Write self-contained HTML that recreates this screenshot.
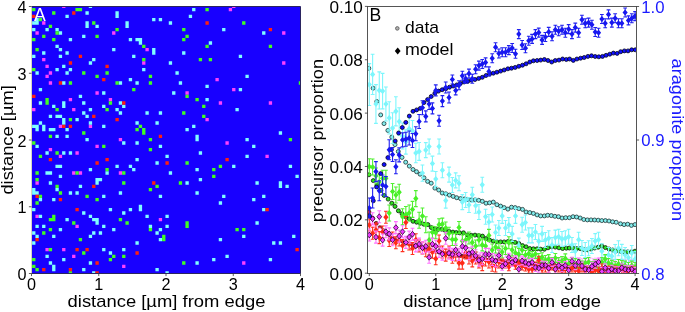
<!DOCTYPE html>
<html><head><meta charset="utf-8"><style>html,body{margin:0;padding:0;background:#fff;overflow:hidden}svg{display:block;will-change:transform}</style></head>
<body><svg width="685" height="312" viewBox="0 0 685 312">
<rect width="685" height="312" fill="#fff"/>
<rect x="31.5" y="6.5" width="269.0" height="267.0" fill="#1800ff"/>
<clipPath id="lc"><rect x="31.8" y="6.4" width="268.6" height="266.8"/></clipPath>
<g clip-path="url(#lc)">
<path d="M32.10 108.03h3.333v3.333h-3.333zM35.43 31.37h3.333v3.333h-3.333zM35.43 181.36h3.333v3.333h-3.333zM35.43 214.70h3.333v3.333h-3.333zM42.10 21.37h3.333v3.333h-3.333zM42.10 58.03h3.333v3.333h-3.333zM45.43 64.70h3.333v3.333h-3.333zM45.43 74.70h3.333v3.333h-3.333zM45.43 248.03h3.333v3.333h-3.333zM48.77 71.37h3.333v3.333h-3.333zM48.77 81.37h3.333v3.333h-3.333zM48.77 148.03h3.333v3.333h-3.333zM58.77 124.70h3.333v3.333h-3.333zM58.77 154.70h3.333v3.333h-3.333zM62.10 4.70h3.333v3.333h-3.333zM62.10 248.03h3.333v3.333h-3.333zM68.77 98.03h3.333v3.333h-3.333zM72.10 108.03h3.333v3.333h-3.333zM72.10 171.36h3.333v3.333h-3.333zM72.10 254.70h3.333v3.333h-3.333zM75.43 151.37h3.333v3.333h-3.333zM75.43 224.70h3.333v3.333h-3.333zM78.77 171.36h3.333v3.333h-3.333zM88.77 124.70h3.333v3.333h-3.333zM95.43 91.37h3.333v3.333h-3.333zM95.43 144.70h3.333v3.333h-3.333zM108.77 98.03h3.333v3.333h-3.333zM112.10 31.37h3.333v3.333h-3.333zM118.77 138.03h3.333v3.333h-3.333zM118.77 171.36h3.333v3.333h-3.333zM122.10 264.70h3.333v3.333h-3.333zM142.10 61.37h3.333v3.333h-3.333zM145.43 48.03h3.333v3.333h-3.333zM158.77 218.03h3.333v3.333h-3.333zM185.43 91.37h3.333v3.333h-3.333zM205.43 118.03h3.333v3.333h-3.333zM215.43 78.03h3.333v3.333h-3.333zM218.76 101.37h3.333v3.333h-3.333zM225.43 141.37h3.333v3.333h-3.333zM228.76 8.03h3.333v3.333h-3.333zM232.10 4.70h3.333v3.333h-3.333zM232.10 88.03h3.333v3.333h-3.333zM242.10 261.36h3.333v3.333h-3.333zM265.43 154.70h3.333v3.333h-3.333zM268.76 101.37h3.333v3.333h-3.333zM282.10 31.37h3.333v3.333h-3.333zM282.10 61.37h3.333v3.333h-3.333z" fill="#ff40ff"/>
<path d="M32.10 21.37h3.333v3.333h-3.333zM32.10 28.03h3.333v3.333h-3.333zM32.10 54.70h3.333v3.333h-3.333zM32.10 124.70h3.333v3.333h-3.333zM32.10 188.03h3.333v3.333h-3.333zM32.10 191.36h3.333v3.333h-3.333zM32.10 208.03h3.333v3.333h-3.333zM32.10 231.36h3.333v3.333h-3.333zM32.10 241.36h3.333v3.333h-3.333zM35.43 18.03h3.333v3.333h-3.333zM35.43 21.37h3.333v3.333h-3.333zM35.43 71.37h3.333v3.333h-3.333zM35.43 124.70h3.333v3.333h-3.333zM35.43 128.03h3.333v3.333h-3.333zM35.43 144.70h3.333v3.333h-3.333zM35.43 191.36h3.333v3.333h-3.333zM35.43 224.70h3.333v3.333h-3.333zM35.43 234.70h3.333v3.333h-3.333zM38.77 88.03h3.333v3.333h-3.333zM38.77 101.37h3.333v3.333h-3.333zM38.77 121.37h3.333v3.333h-3.333zM38.77 198.03h3.333v3.333h-3.333zM38.77 214.70h3.333v3.333h-3.333zM42.10 51.37h3.333v3.333h-3.333zM42.10 124.70h3.333v3.333h-3.333zM42.10 128.03h3.333v3.333h-3.333zM42.10 224.70h3.333v3.333h-3.333zM45.43 28.03h3.333v3.333h-3.333zM45.43 151.37h3.333v3.333h-3.333zM45.43 171.36h3.333v3.333h-3.333zM45.43 254.70h3.333v3.333h-3.333zM48.77 114.70h3.333v3.333h-3.333zM48.77 128.03h3.333v3.333h-3.333zM48.77 171.36h3.333v3.333h-3.333zM48.77 181.36h3.333v3.333h-3.333zM48.77 261.36h3.333v3.333h-3.333zM52.10 104.70h3.333v3.333h-3.333zM52.10 128.03h3.333v3.333h-3.333zM52.10 198.03h3.333v3.333h-3.333zM52.10 234.70h3.333v3.333h-3.333zM52.10 264.70h3.333v3.333h-3.333zM52.10 268.03h3.333v3.333h-3.333zM55.43 28.03h3.333v3.333h-3.333zM55.43 44.70h3.333v3.333h-3.333zM55.43 68.03h3.333v3.333h-3.333zM55.43 114.70h3.333v3.333h-3.333zM55.43 134.70h3.333v3.333h-3.333zM55.43 164.70h3.333v3.333h-3.333zM55.43 188.03h3.333v3.333h-3.333zM58.77 31.37h3.333v3.333h-3.333zM58.77 48.03h3.333v3.333h-3.333zM58.77 54.70h3.333v3.333h-3.333zM58.77 114.70h3.333v3.333h-3.333zM58.77 164.70h3.333v3.333h-3.333zM58.77 174.70h3.333v3.333h-3.333zM58.77 228.03h3.333v3.333h-3.333zM62.10 64.70h3.333v3.333h-3.333zM62.10 81.37h3.333v3.333h-3.333zM62.10 101.37h3.333v3.333h-3.333zM62.10 104.70h3.333v3.333h-3.333zM62.10 118.03h3.333v3.333h-3.333zM62.10 121.37h3.333v3.333h-3.333zM62.10 151.37h3.333v3.333h-3.333zM62.10 258.03h3.333v3.333h-3.333zM65.43 14.70h3.333v3.333h-3.333zM65.43 51.37h3.333v3.333h-3.333zM65.43 71.37h3.333v3.333h-3.333zM65.43 128.03h3.333v3.333h-3.333zM65.43 134.70h3.333v3.333h-3.333zM65.43 218.03h3.333v3.333h-3.333zM68.77 38.03h3.333v3.333h-3.333zM68.77 68.03h3.333v3.333h-3.333zM68.77 151.37h3.333v3.333h-3.333zM68.77 191.36h3.333v3.333h-3.333zM75.43 118.03h3.333v3.333h-3.333zM75.43 191.36h3.333v3.333h-3.333zM78.77 94.70h3.333v3.333h-3.333zM78.77 184.70h3.333v3.333h-3.333zM82.10 34.70h3.333v3.333h-3.333zM82.10 101.37h3.333v3.333h-3.333zM82.10 111.37h3.333v3.333h-3.333zM82.10 211.36h3.333v3.333h-3.333zM82.10 268.03h3.333v3.333h-3.333zM85.43 11.37h3.333v3.333h-3.333zM85.43 21.37h3.333v3.333h-3.333zM85.43 24.70h3.333v3.333h-3.333zM85.43 114.70h3.333v3.333h-3.333zM85.43 138.03h3.333v3.333h-3.333zM88.77 4.70h3.333v3.333h-3.333zM88.77 61.37h3.333v3.333h-3.333zM88.77 108.03h3.333v3.333h-3.333zM88.77 121.37h3.333v3.333h-3.333zM88.77 168.03h3.333v3.333h-3.333zM88.77 214.70h3.333v3.333h-3.333zM88.77 234.70h3.333v3.333h-3.333zM88.77 261.36h3.333v3.333h-3.333zM92.10 58.03h3.333v3.333h-3.333zM92.10 218.03h3.333v3.333h-3.333zM92.10 231.36h3.333v3.333h-3.333zM92.10 271.36h3.333v3.333h-3.333zM95.43 24.70h3.333v3.333h-3.333zM95.43 178.03h3.333v3.333h-3.333zM95.43 181.36h3.333v3.333h-3.333zM95.43 218.03h3.333v3.333h-3.333zM95.43 221.36h3.333v3.333h-3.333zM98.77 178.03h3.333v3.333h-3.333zM98.77 231.36h3.333v3.333h-3.333zM102.10 91.37h3.333v3.333h-3.333zM102.10 104.70h3.333v3.333h-3.333zM102.10 124.70h3.333v3.333h-3.333zM102.10 194.70h3.333v3.333h-3.333zM102.10 224.70h3.333v3.333h-3.333zM102.10 248.03h3.333v3.333h-3.333zM105.43 171.36h3.333v3.333h-3.333zM108.77 208.03h3.333v3.333h-3.333zM108.77 251.36h3.333v3.333h-3.333zM112.10 48.03h3.333v3.333h-3.333zM112.10 228.03h3.333v3.333h-3.333zM115.43 11.37h3.333v3.333h-3.333zM115.43 14.70h3.333v3.333h-3.333zM115.43 108.03h3.333v3.333h-3.333zM115.43 164.70h3.333v3.333h-3.333zM118.77 81.37h3.333v3.333h-3.333zM118.77 101.37h3.333v3.333h-3.333zM118.77 111.37h3.333v3.333h-3.333zM118.77 191.36h3.333v3.333h-3.333zM122.10 104.70h3.333v3.333h-3.333zM122.10 141.37h3.333v3.333h-3.333zM122.10 211.36h3.333v3.333h-3.333zM122.10 248.03h3.333v3.333h-3.333zM125.43 21.37h3.333v3.333h-3.333zM125.43 24.70h3.333v3.333h-3.333zM128.77 38.03h3.333v3.333h-3.333zM128.77 78.03h3.333v3.333h-3.333zM128.77 164.70h3.333v3.333h-3.333zM128.77 208.03h3.333v3.333h-3.333zM132.10 54.70h3.333v3.333h-3.333zM132.10 168.03h3.333v3.333h-3.333zM135.43 38.03h3.333v3.333h-3.333zM135.43 81.37h3.333v3.333h-3.333zM135.43 121.37h3.333v3.333h-3.333zM135.43 141.37h3.333v3.333h-3.333zM135.43 158.03h3.333v3.333h-3.333zM135.43 241.36h3.333v3.333h-3.333zM138.77 38.03h3.333v3.333h-3.333zM138.77 41.37h3.333v3.333h-3.333zM138.77 204.70h3.333v3.333h-3.333zM138.77 208.03h3.333v3.333h-3.333zM142.10 68.03h3.333v3.333h-3.333zM145.43 111.37h3.333v3.333h-3.333zM145.43 214.70h3.333v3.333h-3.333zM148.77 224.70h3.333v3.333h-3.333zM152.10 18.03h3.333v3.333h-3.333zM152.10 48.03h3.333v3.333h-3.333zM152.10 51.37h3.333v3.333h-3.333zM155.43 121.37h3.333v3.333h-3.333zM155.43 161.37h3.333v3.333h-3.333zM155.43 231.36h3.333v3.333h-3.333zM155.43 268.03h3.333v3.333h-3.333zM158.77 18.03h3.333v3.333h-3.333zM158.77 111.37h3.333v3.333h-3.333zM158.77 144.70h3.333v3.333h-3.333zM158.77 194.70h3.333v3.333h-3.333zM158.77 228.03h3.333v3.333h-3.333zM158.77 238.03h3.333v3.333h-3.333zM165.43 154.70h3.333v3.333h-3.333zM165.43 214.70h3.333v3.333h-3.333zM165.43 224.70h3.333v3.333h-3.333zM165.43 271.36h3.333v3.333h-3.333zM168.77 21.37h3.333v3.333h-3.333zM168.77 61.37h3.333v3.333h-3.333zM168.77 171.36h3.333v3.333h-3.333zM172.10 91.37h3.333v3.333h-3.333zM175.43 71.37h3.333v3.333h-3.333zM178.77 81.37h3.333v3.333h-3.333zM182.10 51.37h3.333v3.333h-3.333zM185.43 128.03h3.333v3.333h-3.333zM185.43 181.36h3.333v3.333h-3.333zM188.77 14.70h3.333v3.333h-3.333zM192.10 8.03h3.333v3.333h-3.333zM192.10 124.70h3.333v3.333h-3.333zM195.43 134.70h3.333v3.333h-3.333zM195.43 138.03h3.333v3.333h-3.333zM195.43 168.03h3.333v3.333h-3.333zM195.43 191.36h3.333v3.333h-3.333zM195.43 261.36h3.333v3.333h-3.333zM198.76 151.37h3.333v3.333h-3.333zM198.76 178.03h3.333v3.333h-3.333zM205.43 84.70h3.333v3.333h-3.333zM205.43 98.03h3.333v3.333h-3.333zM208.76 41.37h3.333v3.333h-3.333zM212.10 258.03h3.333v3.333h-3.333zM218.76 201.36h3.333v3.333h-3.333zM218.76 238.03h3.333v3.333h-3.333zM222.10 28.03h3.333v3.333h-3.333zM222.10 194.70h3.333v3.333h-3.333zM225.43 254.70h3.333v3.333h-3.333zM232.10 164.70h3.333v3.333h-3.333zM235.43 108.03h3.333v3.333h-3.333zM238.76 54.70h3.333v3.333h-3.333zM238.76 88.03h3.333v3.333h-3.333zM242.10 234.70h3.333v3.333h-3.333zM245.43 74.70h3.333v3.333h-3.333zM245.43 138.03h3.333v3.333h-3.333zM245.43 154.70h3.333v3.333h-3.333zM252.10 144.70h3.333v3.333h-3.333zM252.10 198.03h3.333v3.333h-3.333zM255.43 181.36h3.333v3.333h-3.333zM255.43 221.36h3.333v3.333h-3.333zM262.10 31.37h3.333v3.333h-3.333zM262.10 194.70h3.333v3.333h-3.333zM262.10 208.03h3.333v3.333h-3.333zM268.76 258.03h3.333v3.333h-3.333zM272.10 241.36h3.333v3.333h-3.333zM278.76 131.37h3.333v3.333h-3.333zM278.76 181.36h3.333v3.333h-3.333zM278.76 184.70h3.333v3.333h-3.333zM278.76 241.36h3.333v3.333h-3.333zM285.43 184.70h3.333v3.333h-3.333zM288.76 164.70h3.333v3.333h-3.333zM292.10 234.70h3.333v3.333h-3.333zM295.43 174.70h3.333v3.333h-3.333z" fill="#80ffff"/>
<path d="M32.10 8.03h3.333v3.333h-3.333zM32.10 38.03h3.333v3.333h-3.333zM32.10 68.03h3.333v3.333h-3.333zM32.10 141.37h3.333v3.333h-3.333zM32.10 258.03h3.333v3.333h-3.333zM32.10 264.70h3.333v3.333h-3.333zM35.43 48.03h3.333v3.333h-3.333zM35.43 171.36h3.333v3.333h-3.333zM35.43 178.03h3.333v3.333h-3.333zM35.43 201.36h3.333v3.333h-3.333zM35.43 268.03h3.333v3.333h-3.333zM38.77 18.03h3.333v3.333h-3.333zM38.77 154.70h3.333v3.333h-3.333zM38.77 194.70h3.333v3.333h-3.333zM42.10 34.70h3.333v3.333h-3.333zM42.10 231.36h3.333v3.333h-3.333zM45.43 98.03h3.333v3.333h-3.333zM45.43 101.37h3.333v3.333h-3.333zM48.77 24.70h3.333v3.333h-3.333zM48.77 134.70h3.333v3.333h-3.333zM48.77 218.03h3.333v3.333h-3.333zM48.77 228.03h3.333v3.333h-3.333zM48.77 248.03h3.333v3.333h-3.333zM52.10 11.37h3.333v3.333h-3.333zM52.10 38.03h3.333v3.333h-3.333zM52.10 214.70h3.333v3.333h-3.333zM52.10 218.03h3.333v3.333h-3.333zM55.43 31.37h3.333v3.333h-3.333zM55.43 108.03h3.333v3.333h-3.333zM55.43 151.37h3.333v3.333h-3.333zM55.43 184.70h3.333v3.333h-3.333zM58.77 191.36h3.333v3.333h-3.333zM68.77 81.37h3.333v3.333h-3.333zM68.77 118.03h3.333v3.333h-3.333zM68.77 271.36h3.333v3.333h-3.333zM72.10 221.36h3.333v3.333h-3.333zM75.43 8.03h3.333v3.333h-3.333zM75.43 171.36h3.333v3.333h-3.333zM78.77 8.03h3.333v3.333h-3.333zM78.77 238.03h3.333v3.333h-3.333zM82.10 71.37h3.333v3.333h-3.333zM82.10 131.37h3.333v3.333h-3.333zM82.10 251.36h3.333v3.333h-3.333zM85.43 194.70h3.333v3.333h-3.333zM92.10 21.37h3.333v3.333h-3.333zM95.43 34.70h3.333v3.333h-3.333zM95.43 74.70h3.333v3.333h-3.333zM95.43 198.03h3.333v3.333h-3.333zM102.10 144.70h3.333v3.333h-3.333zM105.43 71.37h3.333v3.333h-3.333zM105.43 108.03h3.333v3.333h-3.333zM105.43 168.03h3.333v3.333h-3.333zM108.77 101.37h3.333v3.333h-3.333zM108.77 258.03h3.333v3.333h-3.333zM112.10 254.70h3.333v3.333h-3.333zM115.43 28.03h3.333v3.333h-3.333zM115.43 81.37h3.333v3.333h-3.333zM118.77 218.03h3.333v3.333h-3.333zM122.10 171.36h3.333v3.333h-3.333zM122.10 181.36h3.333v3.333h-3.333zM122.10 254.70h3.333v3.333h-3.333zM125.43 221.36h3.333v3.333h-3.333zM132.10 88.03h3.333v3.333h-3.333zM135.43 128.03h3.333v3.333h-3.333zM138.77 124.70h3.333v3.333h-3.333zM142.10 44.70h3.333v3.333h-3.333zM142.10 58.03h3.333v3.333h-3.333zM142.10 128.03h3.333v3.333h-3.333zM142.10 131.37h3.333v3.333h-3.333zM148.77 74.70h3.333v3.333h-3.333zM148.77 81.37h3.333v3.333h-3.333zM148.77 138.03h3.333v3.333h-3.333zM148.77 148.03h3.333v3.333h-3.333zM148.77 188.03h3.333v3.333h-3.333zM148.77 228.03h3.333v3.333h-3.333zM155.43 184.70h3.333v3.333h-3.333zM162.10 234.70h3.333v3.333h-3.333zM162.10 238.03h3.333v3.333h-3.333zM178.77 181.36h3.333v3.333h-3.333zM182.10 28.03h3.333v3.333h-3.333zM182.10 38.03h3.333v3.333h-3.333zM182.10 111.37h3.333v3.333h-3.333zM182.10 261.36h3.333v3.333h-3.333zM185.43 34.70h3.333v3.333h-3.333zM185.43 94.70h3.333v3.333h-3.333zM185.43 161.37h3.333v3.333h-3.333zM185.43 221.36h3.333v3.333h-3.333zM185.43 224.70h3.333v3.333h-3.333zM195.43 98.03h3.333v3.333h-3.333zM198.76 58.03h3.333v3.333h-3.333zM202.10 104.70h3.333v3.333h-3.333zM202.10 114.70h3.333v3.333h-3.333zM205.43 8.03h3.333v3.333h-3.333zM205.43 44.70h3.333v3.333h-3.333zM208.76 58.03h3.333v3.333h-3.333zM212.10 168.03h3.333v3.333h-3.333zM212.10 174.70h3.333v3.333h-3.333zM218.76 164.70h3.333v3.333h-3.333zM235.43 228.03h3.333v3.333h-3.333zM242.10 21.37h3.333v3.333h-3.333zM242.10 228.03h3.333v3.333h-3.333zM268.76 44.70h3.333v3.333h-3.333zM288.76 138.03h3.333v3.333h-3.333zM298.76 81.37h3.333v3.333h-3.333z" fill="#40ff20"/>
<path d="M32.10 14.70h3.333v3.333h-3.333zM32.10 94.70h3.333v3.333h-3.333zM35.43 194.70h3.333v3.333h-3.333zM35.43 238.03h3.333v3.333h-3.333zM42.10 268.03h3.333v3.333h-3.333zM48.77 158.03h3.333v3.333h-3.333zM58.77 81.37h3.333v3.333h-3.333zM58.77 198.03h3.333v3.333h-3.333zM62.10 124.70h3.333v3.333h-3.333zM68.77 61.37h3.333v3.333h-3.333zM68.77 124.70h3.333v3.333h-3.333zM68.77 268.03h3.333v3.333h-3.333zM72.10 11.37h3.333v3.333h-3.333zM75.43 208.03h3.333v3.333h-3.333zM75.43 248.03h3.333v3.333h-3.333zM78.77 54.70h3.333v3.333h-3.333zM85.43 248.03h3.333v3.333h-3.333zM92.10 114.70h3.333v3.333h-3.333zM92.10 184.70h3.333v3.333h-3.333zM95.43 161.37h3.333v3.333h-3.333zM95.43 261.36h3.333v3.333h-3.333zM95.43 271.36h3.333v3.333h-3.333zM102.10 78.03h3.333v3.333h-3.333zM105.43 64.70h3.333v3.333h-3.333zM105.43 158.03h3.333v3.333h-3.333zM115.43 118.03h3.333v3.333h-3.333zM122.10 101.37h3.333v3.333h-3.333zM135.43 251.36h3.333v3.333h-3.333zM152.10 181.36h3.333v3.333h-3.333zM158.77 134.70h3.333v3.333h-3.333zM165.43 161.37h3.333v3.333h-3.333zM205.43 21.37h3.333v3.333h-3.333zM225.43 158.03h3.333v3.333h-3.333zM265.43 208.03h3.333v3.333h-3.333zM268.76 28.03h3.333v3.333h-3.333zM295.43 248.03h3.333v3.333h-3.333z" fill="#ff2010"/>
</g>
<path d="M31.5 6.5H300.5V273.5H31.5" fill="none" stroke="#2a2460" stroke-width="1"/>
<line x1="31.5" y1="6.5" x2="31.5" y2="273.5" stroke="#d6d6c0" stroke-width="1"/>
<line x1="31.5" y1="273.5" x2="31.5" y2="276.1" stroke="#333" stroke-width="0.8"/>
<line x1="28.9" y1="273.5" x2="31.5" y2="273.5" stroke="#333" stroke-width="0.8"/>
<line x1="98.75" y1="273.5" x2="98.75" y2="276.1" stroke="#333" stroke-width="0.8"/>
<line x1="28.9" y1="206.75" x2="31.5" y2="206.75" stroke="#333" stroke-width="0.8"/>
<line x1="166.0" y1="273.5" x2="166.0" y2="276.1" stroke="#333" stroke-width="0.8"/>
<line x1="28.9" y1="140.0" x2="31.5" y2="140.0" stroke="#333" stroke-width="0.8"/>
<line x1="233.25" y1="273.5" x2="233.25" y2="276.1" stroke="#333" stroke-width="0.8"/>
<line x1="28.9" y1="73.25" x2="31.5" y2="73.25" stroke="#333" stroke-width="0.8"/>
<line x1="300.5" y1="273.5" x2="300.5" y2="276.1" stroke="#333" stroke-width="0.8"/>
<line x1="28.9" y1="6.5" x2="31.5" y2="6.5" stroke="#333" stroke-width="0.8"/>
<svg x="0" y="0"><clipPath id="rc"><rect x="367.4" y="6.4" width="269.6" height="266.8"/></clipPath></svg>
<g clip-path="url(#rc)">
<g fill="#84ecec" stroke="#102828" stroke-width="0.75"><circle cx="368.80" cy="68.30" r="2.0"/><circle cx="373.10" cy="88.20" r="2.0"/><circle cx="376.80" cy="101.50" r="2.0"/><circle cx="380.70" cy="114.90" r="2.0"/><circle cx="384.00" cy="123.60" r="2.0"/><circle cx="387.90" cy="130.40" r="2.0"/><circle cx="391.80" cy="137.10" r="2.0"/><circle cx="395.00" cy="144.60" r="2.0"/><circle cx="398.30" cy="151.50" r="2.0"/><circle cx="402.00" cy="157.40" r="2.0"/><circle cx="405.70" cy="162.20" r="2.0"/><circle cx="409.30" cy="166.10" r="2.0"/><circle cx="413.00" cy="169.50" r="2.0"/><circle cx="416.50" cy="171.70" r="2.0"/><circle cx="420.10" cy="174.20" r="2.0"/><circle cx="424.00" cy="177.80" r="2.0"/><circle cx="427.60" cy="181.40" r="2.0"/><circle cx="431.20" cy="183.20" r="2.0"/><circle cx="434.90" cy="188.10" r="2.0"/><circle cx="438.70" cy="190.00" r="2.0"/><circle cx="442.20" cy="193.00" r="2.0"/><circle cx="445.80" cy="193.80" r="2.0"/><circle cx="449.40" cy="195.10" r="2.0"/><circle cx="453.20" cy="196.40" r="2.0"/><circle cx="456.70" cy="197.70" r="2.0"/><circle cx="460.50" cy="198.60" r="2.0"/><circle cx="464.40" cy="199.00" r="2.0"/><circle cx="467.70" cy="199.40" r="2.0"/><circle cx="471.40" cy="199.90" r="2.0"/><circle cx="475.00" cy="199.90" r="2.0"/><circle cx="478.70" cy="200.30" r="2.0"/><circle cx="482.30" cy="201.30" r="2.0"/><circle cx="486.00" cy="203.20" r="2.0"/><circle cx="489.60" cy="202.80" r="2.0"/><circle cx="493.30" cy="202.10" r="2.0"/><circle cx="496.90" cy="204.70" r="2.0"/><circle cx="500.60" cy="206.10" r="2.0"/><circle cx="504.20" cy="207.60" r="2.0"/><circle cx="507.90" cy="209.10" r="2.0"/><circle cx="511.50" cy="207.20" r="2.0"/><circle cx="515.20" cy="207.60" r="2.0"/><circle cx="518.80" cy="208.60" r="2.0"/><circle cx="522.50" cy="209.40" r="2.0"/><circle cx="526.10" cy="212.00" r="2.0"/><circle cx="529.80" cy="212.60" r="2.0"/><circle cx="533.40" cy="213.40" r="2.0"/><circle cx="537.10" cy="214.90" r="2.0"/><circle cx="540.70" cy="215.90" r="2.0"/><circle cx="544.40" cy="215.90" r="2.0"/><circle cx="547.70" cy="215.30" r="2.0"/><circle cx="551.30" cy="215.60" r="2.0"/><circle cx="554.90" cy="216.30" r="2.0"/><circle cx="558.50" cy="216.70" r="2.0"/><circle cx="562.10" cy="218.00" r="2.0"/><circle cx="565.70" cy="217.70" r="2.0"/><circle cx="569.40" cy="217.70" r="2.0"/><circle cx="573.00" cy="216.70" r="2.0"/><circle cx="576.60" cy="217.00" r="2.0"/><circle cx="580.20" cy="218.00" r="2.0"/><circle cx="583.80" cy="219.50" r="2.0"/><circle cx="587.40" cy="219.90" r="2.0"/><circle cx="591.00" cy="219.90" r="2.0"/><circle cx="594.60" cy="220.00" r="2.0"/><circle cx="598.20" cy="220.20" r="2.0"/><circle cx="601.80" cy="220.60" r="2.0"/><circle cx="605.40" cy="220.60" r="2.0"/><circle cx="609.00" cy="221.00" r="2.0"/><circle cx="612.60" cy="221.80" r="2.0"/><circle cx="616.20" cy="222.30" r="2.0"/><circle cx="620.50" cy="223.80" r="2.0"/><circle cx="624.10" cy="224.60" r="2.0"/><circle cx="627.70" cy="224.20" r="2.0"/><circle cx="631.40" cy="225.40" r="2.0"/><circle cx="635.00" cy="224.60" r="2.0"/></g>
<g fill="#30e020" stroke="#001000" stroke-width="0.75"><circle cx="368.90" cy="174.80" r="2.0"/><circle cx="373.30" cy="180.60" r="2.0"/><circle cx="377.00" cy="185.50" r="2.0"/><circle cx="380.90" cy="190.40" r="2.0"/><circle cx="384.20" cy="195.50" r="2.0"/><circle cx="388.20" cy="199.10" r="2.0"/><circle cx="391.80" cy="203.20" r="2.0"/><circle cx="395.00" cy="206.40" r="2.0"/><circle cx="398.40" cy="210.80" r="2.0"/><circle cx="402.00" cy="213.70" r="2.0"/><circle cx="405.70" cy="216.70" r="2.0"/><circle cx="409.30" cy="218.80" r="2.0"/><circle cx="413.00" cy="221.30" r="2.0"/><circle cx="416.60" cy="222.20" r="2.0"/><circle cx="420.30" cy="223.20" r="2.0"/><circle cx="423.90" cy="224.20" r="2.0"/><circle cx="427.90" cy="224.60" r="2.0"/><circle cx="431.30" cy="227.50" r="2.0"/><circle cx="434.60" cy="228.90" r="2.0"/><circle cx="438.00" cy="229.40" r="2.0"/><circle cx="441.80" cy="229.20" r="2.0"/><circle cx="445.20" cy="230.40" r="2.0"/><circle cx="449.00" cy="231.30" r="2.0"/><circle cx="452.90" cy="232.10" r="2.0"/><circle cx="456.30" cy="232.50" r="2.0"/><circle cx="459.60" cy="232.80" r="2.0"/><circle cx="463.50" cy="232.80" r="2.0"/><circle cx="467.50" cy="234.90" r="2.0"/><circle cx="471.30" cy="235.30" r="2.0"/><circle cx="475.00" cy="235.10" r="2.0"/><circle cx="478.70" cy="235.60" r="2.0"/><circle cx="482.50" cy="236.10" r="2.0"/><circle cx="486.00" cy="238.60" r="2.0"/><circle cx="489.60" cy="240.10" r="2.0"/><circle cx="493.30" cy="241.20" r="2.0"/><circle cx="496.90" cy="241.90" r="2.0"/><circle cx="500.60" cy="241.90" r="2.0"/><circle cx="504.20" cy="241.90" r="2.0"/><circle cx="507.90" cy="241.50" r="2.0"/><circle cx="511.50" cy="241.50" r="2.0"/><circle cx="515.20" cy="242.40" r="2.0"/><circle cx="518.80" cy="243.40" r="2.0"/><circle cx="522.50" cy="245.60" r="2.0"/><circle cx="526.10" cy="246.80" r="2.0"/><circle cx="529.80" cy="248.50" r="2.0"/><circle cx="533.40" cy="248.80" r="2.0"/><circle cx="537.10" cy="248.80" r="2.0"/><circle cx="540.70" cy="249.20" r="2.0"/><circle cx="544.40" cy="249.20" r="2.0"/><circle cx="548.00" cy="247.80" r="2.0"/><circle cx="551.70" cy="246.80" r="2.0"/><circle cx="555.30" cy="247.10" r="2.0"/><circle cx="559.00" cy="247.80" r="2.0"/><circle cx="562.60" cy="248.50" r="2.0"/><circle cx="566.30" cy="248.20" r="2.0"/><circle cx="569.40" cy="248.00" r="2.0"/><circle cx="573.00" cy="248.00" r="2.0"/><circle cx="576.60" cy="248.60" r="2.0"/><circle cx="580.20" cy="248.60" r="2.0"/><circle cx="583.80" cy="249.50" r="2.0"/><circle cx="587.40" cy="249.80" r="2.0"/><circle cx="591.00" cy="249.00" r="2.0"/><circle cx="594.60" cy="248.00" r="2.0"/><circle cx="598.20" cy="247.20" r="2.0"/><circle cx="601.80" cy="246.10" r="2.0"/><circle cx="605.40" cy="247.60" r="2.0"/><circle cx="609.00" cy="249.00" r="2.0"/><circle cx="612.60" cy="250.00" r="2.0"/><circle cx="616.20" cy="250.90" r="2.0"/><circle cx="620.50" cy="251.20" r="2.0"/><circle cx="624.10" cy="251.90" r="2.0"/><circle cx="627.70" cy="251.90" r="2.0"/><circle cx="631.40" cy="251.90" r="2.0"/><circle cx="635.00" cy="251.20" r="2.0"/></g>
<g fill="#ee2020" stroke="#200000" stroke-width="0.75"><circle cx="368.90" cy="212.00" r="2.0"/><circle cx="372.55" cy="218.21" r="2.0"/><circle cx="376.19" cy="223.40" r="2.0"/><circle cx="379.84" cy="227.74" r="2.0"/><circle cx="383.49" cy="230.86" r="2.0"/><circle cx="387.13" cy="233.74" r="2.0"/><circle cx="390.78" cy="236.31" r="2.0"/><circle cx="394.43" cy="237.77" r="2.0"/><circle cx="398.07" cy="239.23" r="2.0"/><circle cx="401.72" cy="240.69" r="2.0"/><circle cx="405.37" cy="242.15" r="2.0"/><circle cx="409.01" cy="243.60" r="2.0"/><circle cx="412.66" cy="244.71" r="2.0"/><circle cx="416.31" cy="245.68" r="2.0"/><circle cx="419.95" cy="246.65" r="2.0"/><circle cx="423.60" cy="247.63" r="2.0"/><circle cx="427.25" cy="248.60" r="2.0"/><circle cx="430.89" cy="249.57" r="2.0"/><circle cx="434.54" cy="250.54" r="2.0"/><circle cx="438.18" cy="251.52" r="2.0"/><circle cx="441.83" cy="252.32" r="2.0"/><circle cx="445.48" cy="252.96" r="2.0"/><circle cx="449.12" cy="253.60" r="2.0"/><circle cx="452.77" cy="254.23" r="2.0"/><circle cx="456.42" cy="254.87" r="2.0"/><circle cx="460.06" cy="255.51" r="2.0"/><circle cx="463.71" cy="256.15" r="2.0"/><circle cx="467.36" cy="256.79" r="2.0"/><circle cx="471.00" cy="257.43" r="2.0"/><circle cx="474.65" cy="258.06" r="2.0"/><circle cx="478.30" cy="258.70" r="2.0"/><circle cx="481.94" cy="259.19" r="2.0"/><circle cx="485.59" cy="259.56" r="2.0"/><circle cx="489.24" cy="259.92" r="2.0"/><circle cx="492.88" cy="260.29" r="2.0"/><circle cx="496.53" cy="260.65" r="2.0"/><circle cx="500.18" cy="261.02" r="2.0"/><circle cx="503.82" cy="261.38" r="2.0"/><circle cx="507.47" cy="261.75" r="2.0"/><circle cx="511.12" cy="262.11" r="2.0"/><circle cx="514.76" cy="262.48" r="2.0"/><circle cx="518.41" cy="262.84" r="2.0"/><circle cx="522.06" cy="263.15" r="2.0"/><circle cx="525.70" cy="263.43" r="2.0"/><circle cx="529.35" cy="263.70" r="2.0"/><circle cx="533.00" cy="263.97" r="2.0"/><circle cx="536.64" cy="264.25" r="2.0"/><circle cx="540.29" cy="264.52" r="2.0"/><circle cx="543.94" cy="264.80" r="2.0"/><circle cx="547.58" cy="265.07" r="2.0"/><circle cx="551.23" cy="265.34" r="2.0"/><circle cx="554.88" cy="265.62" r="2.0"/><circle cx="558.52" cy="265.89" r="2.0"/><circle cx="562.17" cy="266.11" r="2.0"/><circle cx="565.82" cy="266.29" r="2.0"/><circle cx="569.46" cy="266.47" r="2.0"/><circle cx="573.11" cy="266.66" r="2.0"/><circle cx="576.75" cy="266.84" r="2.0"/><circle cx="580.40" cy="267.02" r="2.0"/><circle cx="584.05" cy="267.20" r="2.0"/><circle cx="587.69" cy="267.38" r="2.0"/><circle cx="591.34" cy="267.57" r="2.0"/><circle cx="594.99" cy="267.75" r="2.0"/><circle cx="598.63" cy="267.93" r="2.0"/><circle cx="602.28" cy="268.06" r="2.0"/><circle cx="605.93" cy="268.16" r="2.0"/><circle cx="609.57" cy="268.27" r="2.0"/><circle cx="613.22" cy="268.37" r="2.0"/><circle cx="616.87" cy="268.47" r="2.0"/><circle cx="620.51" cy="268.57" r="2.0"/><circle cx="624.16" cy="268.67" r="2.0"/><circle cx="627.81" cy="268.77" r="2.0"/><circle cx="631.45" cy="268.87" r="2.0"/><circle cx="635.10" cy="268.98" r="2.0"/></g>
<g fill="#ffffff" stroke="#ff88ff" stroke-width="0.7"><circle cx="368.90" cy="222.00" r="1.8"/><circle cx="372.55" cy="224.58" r="1.8"/><circle cx="376.19" cy="227.23" r="1.8"/><circle cx="379.84" cy="229.88" r="1.8"/><circle cx="383.49" cy="231.39" r="1.8"/><circle cx="387.13" cy="232.85" r="1.8"/><circle cx="390.78" cy="234.31" r="1.8"/><circle cx="394.43" cy="235.77" r="1.8"/><circle cx="398.07" cy="237.23" r="1.8"/><circle cx="401.72" cy="238.52" r="1.8"/><circle cx="405.37" cy="239.61" r="1.8"/><circle cx="409.01" cy="240.70" r="1.8"/><circle cx="412.66" cy="241.80" r="1.8"/><circle cx="416.31" cy="242.89" r="1.8"/><circle cx="419.95" cy="243.99" r="1.8"/><circle cx="423.60" cy="244.86" r="1.8"/><circle cx="427.25" cy="245.74" r="1.8"/><circle cx="430.89" cy="246.61" r="1.8"/><circle cx="434.54" cy="247.49" r="1.8"/><circle cx="438.18" cy="248.36" r="1.8"/><circle cx="441.83" cy="249.24" r="1.8"/><circle cx="445.48" cy="250.05" r="1.8"/><circle cx="449.12" cy="250.47" r="1.8"/><circle cx="452.77" cy="250.89" r="1.8"/><circle cx="456.42" cy="251.30" r="1.8"/><circle cx="460.06" cy="251.72" r="1.8"/><circle cx="463.71" cy="252.14" r="1.8"/><circle cx="467.36" cy="252.56" r="1.8"/><circle cx="471.00" cy="252.97" r="1.8"/><circle cx="474.65" cy="253.39" r="1.8"/><circle cx="478.30" cy="253.81" r="1.8"/><circle cx="481.94" cy="254.15" r="1.8"/><circle cx="485.59" cy="254.42" r="1.8"/><circle cx="489.24" cy="254.69" r="1.8"/><circle cx="492.88" cy="254.97" r="1.8"/><circle cx="496.53" cy="255.24" r="1.8"/><circle cx="500.18" cy="255.51" r="1.8"/><circle cx="503.82" cy="255.79" r="1.8"/><circle cx="507.47" cy="256.06" r="1.8"/><circle cx="511.12" cy="256.33" r="1.8"/><circle cx="514.76" cy="256.61" r="1.8"/><circle cx="518.41" cy="256.88" r="1.8"/><circle cx="522.06" cy="257.16" r="1.8"/><circle cx="525.70" cy="257.44" r="1.8"/><circle cx="529.35" cy="257.73" r="1.8"/><circle cx="533.00" cy="258.01" r="1.8"/><circle cx="536.64" cy="258.29" r="1.8"/><circle cx="540.29" cy="258.58" r="1.8"/><circle cx="543.94" cy="258.86" r="1.8"/><circle cx="547.58" cy="259.15" r="1.8"/><circle cx="551.23" cy="259.43" r="1.8"/><circle cx="554.88" cy="259.71" r="1.8"/><circle cx="558.52" cy="259.80" r="1.8"/><circle cx="562.17" cy="259.80" r="1.8"/><circle cx="565.82" cy="259.80" r="1.8"/><circle cx="569.46" cy="259.80" r="1.8"/><circle cx="573.11" cy="259.80" r="1.8"/><circle cx="576.75" cy="259.80" r="1.8"/><circle cx="580.40" cy="259.80" r="1.8"/><circle cx="584.05" cy="259.80" r="1.8"/><circle cx="587.69" cy="259.80" r="1.8"/><circle cx="591.34" cy="259.80" r="1.8"/><circle cx="594.99" cy="259.80" r="1.8"/><circle cx="598.63" cy="259.91" r="1.8"/><circle cx="602.28" cy="260.15" r="1.8"/><circle cx="605.93" cy="260.40" r="1.8"/><circle cx="609.57" cy="260.64" r="1.8"/><circle cx="613.22" cy="260.88" r="1.8"/><circle cx="616.87" cy="261.00" r="1.8"/><circle cx="620.51" cy="261.00" r="1.8"/><circle cx="624.16" cy="261.00" r="1.8"/><circle cx="627.81" cy="261.00" r="1.8"/><circle cx="631.45" cy="261.00" r="1.8"/><circle cx="635.10" cy="261.00" r="1.8"/></g>
<path d="M369.30 63.67V105.53M367.40 63.67H371.20M367.40 105.53H371.20M372.62 54.27V94.53M370.72 54.27H374.52M370.72 94.53H374.52M375.94 84.67V123.33M374.05 84.67H377.84M374.05 123.33H377.84M379.27 71.86V108.94M377.37 71.86H381.17M377.37 108.94H381.17M382.59 73.36V108.84M380.69 73.36H384.49M380.69 108.84H384.49M385.91 87.06V120.94M384.01 87.06H387.81M384.01 120.94H387.81M389.24 101.76V134.04M387.34 101.76H391.13M387.34 134.04H391.13M392.56 112.75V143.45M390.66 112.75H394.46M390.66 143.45H394.46M395.88 96.75V125.85M393.98 96.75H397.78M393.98 125.85H397.78M399.20 107.75V135.25M397.30 107.75H401.10M397.30 135.25H401.10M402.53 123.05V148.95M400.63 123.05H404.43M400.63 148.95H404.43M405.85 129.84V154.16M403.95 129.84H407.75M403.95 154.16H407.75M409.17 117.44V140.16M407.27 117.44H411.07M407.27 140.16H411.07M412.49 120.44V141.56M410.59 120.44H414.39M410.59 141.56H414.39M415.81 143.24V162.76M413.92 143.24H417.71M413.92 162.76H417.71M419.14 142.43V160.37M417.24 142.43H421.04M417.24 160.37H421.04M422.46 164.93V181.27M420.56 164.93H424.36M420.56 181.27H424.36M425.78 142.60V157.60M423.88 142.60H427.68M423.88 157.60H427.68M429.11 139.00V154.00M427.21 139.00H431.00M427.21 154.00H431.00M432.43 156.10V171.10M430.53 156.10H434.33M430.53 171.10H434.33M435.75 171.50V186.50M433.85 171.50H437.65M433.85 186.50H437.65M439.07 139.00V154.00M437.17 139.00H440.97M437.17 154.00H440.97M442.39 162.70V177.70M440.50 162.70H444.29M440.50 177.70H444.29M445.72 193.10V208.10M443.82 193.10H447.62M443.82 208.10H447.62M449.04 167.10V182.10M447.14 167.10H450.94M447.14 182.10H450.94M452.36 177.50V192.50M450.46 177.50H454.26M450.46 192.50H454.26M455.69 172.90V187.90M453.79 172.90H457.58M453.79 187.90H457.58M459.01 175.80V190.80M457.11 175.80H460.91M457.11 190.80H460.91M462.33 194.60V209.60M460.43 194.60H464.23M460.43 209.60H464.23M465.65 192.50V207.50M463.75 192.50H467.55M463.75 207.50H467.55M468.98 197.50V212.50M467.08 197.50H470.88M467.08 212.50H470.88M472.30 187.30V202.30M470.40 187.30H474.20M470.40 202.30H474.20M475.62 198.20V213.20M473.72 198.20H477.52M473.72 213.20H477.52M478.94 204.50V219.50M477.04 204.50H480.84M477.04 219.50H480.84M482.26 177.30V192.30M480.37 177.30H484.16M480.37 192.30H484.16M485.59 209.20V224.20M483.69 209.20H487.49M483.69 224.20H487.49M488.91 214.50V229.50M487.01 214.50H490.81M487.01 229.50H490.81M492.23 207.00V222.00M490.33 207.00H494.13M490.33 222.00H494.13M495.56 225.00V240.00M493.66 225.00H497.45M493.66 240.00H497.45M498.88 220.50V235.50M496.98 220.50H500.78M496.98 235.50H500.78M502.20 208.40V223.40M500.30 208.40H504.10M500.30 223.40H504.10M505.52 220.50V235.50M503.62 220.50H507.42M503.62 235.50H507.42M508.85 217.50V232.50M506.95 217.50H510.75M506.95 232.50H510.75M512.17 226.40V241.40M510.27 226.40H514.07M510.27 241.40H514.07M515.49 208.40V223.40M513.59 208.40H517.39M513.59 223.40H517.39M518.81 238.10V253.10M516.91 238.10H520.71M516.91 253.10H520.71M522.13 217.20V232.20M520.24 217.20H524.03M520.24 232.20H524.03M525.46 215.00V230.00M523.56 215.00H527.36M523.56 230.00H527.36M528.78 227.90V242.90M526.88 227.90H530.68M526.88 242.90H530.68M532.10 227.90V242.90M530.20 227.90H534.00M530.20 242.90H534.00M535.42 224.50V239.50M533.52 224.50H537.32M533.52 239.50H537.32M538.75 233.70V248.70M536.85 233.70H540.65M536.85 248.70H540.65M542.07 226.40V241.40M540.17 226.40H543.97M540.17 241.40H543.97M545.39 232.50V247.50M543.49 232.50H547.29M543.49 247.50H547.29M548.72 230.80V245.80M546.82 230.80H550.62M546.82 245.80H550.62M552.04 237.50V252.50M550.14 237.50H553.94M550.14 252.50H553.94M555.36 230.10V245.10M553.46 230.10H557.26M553.46 245.10H557.26M558.68 229.30V244.30M556.78 229.30H560.58M556.78 244.30H560.58M562.00 231.50V246.50M560.11 231.50H563.90M560.11 246.50H563.90M565.33 230.80V245.80M563.43 230.80H567.23M563.43 245.80H567.23M568.65 229.30V244.30M566.75 229.30H570.55M566.75 244.30H570.55M571.97 237.50V252.50M570.07 237.50H573.87M570.07 252.50H573.87M575.30 243.70V258.70M573.40 243.70H577.20M573.40 258.70H577.20M578.62 232.20V247.20M576.72 232.20H580.52M576.72 247.20H580.52M581.94 240.50V255.50M580.04 240.50H583.84M580.04 255.50H583.84M585.26 242.50V257.50M583.36 242.50H587.16M583.36 257.50H587.16M588.59 240.80V255.80M586.69 240.80H590.49M586.69 255.80H590.49M591.91 238.50V253.50M590.01 238.50H593.81M590.01 253.50H593.81M595.23 233.60V248.60M593.33 233.60H597.13M593.33 248.60H597.13M598.55 232.20V247.20M596.65 232.20H600.45M596.65 247.20H600.45M601.88 243.70V258.70M599.98 243.70H603.77M599.98 258.70H603.77M605.20 255.20V270.20M603.30 255.20H607.10M603.30 270.20H607.10M608.52 247.50V262.50M606.62 247.50H610.42M606.62 262.50H610.42M611.84 248.70V263.70M609.94 248.70H613.74M609.94 263.70H613.74M615.16 244.50V259.50M613.26 244.50H617.06M613.26 259.50H617.06M618.49 240.80V255.80M616.59 240.80H620.39M616.59 255.80H620.39M621.81 244.40V259.40M619.91 244.40H623.71M619.91 259.40H623.71M625.13 247.50V262.50M623.23 247.50H627.03M623.23 262.50H627.03M628.46 250.20V265.20M626.56 250.20H630.36M626.56 265.20H630.36M631.78 245.50V260.50M629.88 245.50H633.68M629.88 260.50H633.68M635.10 251.60V266.60M633.20 251.60H637.00M633.20 266.60H637.00" stroke="#7cf6fc" stroke-width="1.1" fill="none"/>
<path d="M369.30 81.50L371.90 84.60L369.30 87.70L366.70 84.60ZM372.62 71.30L375.22 74.40L372.62 77.50L370.02 74.40ZM375.94 100.90L378.55 104.00L375.94 107.10L373.34 104.00ZM379.27 87.30L381.87 90.40L379.27 93.50L376.67 90.40ZM382.59 88.00L385.19 91.10L382.59 94.20L379.99 91.10ZM385.91 100.90L388.51 104.00L385.91 107.10L383.31 104.00ZM389.24 114.80L391.84 117.90L389.24 121.00L386.63 117.90ZM392.56 125.00L395.16 128.10L392.56 131.20L389.96 128.10ZM395.88 108.20L398.48 111.30L395.88 114.40L393.28 111.30ZM399.20 118.40L401.80 121.50L399.20 124.60L396.60 121.50ZM402.53 132.90L405.13 136.00L402.53 139.10L399.93 136.00ZM405.85 138.90L408.45 142.00L405.85 145.10L403.25 142.00ZM409.17 125.70L411.77 128.80L409.17 131.90L406.57 128.80ZM412.49 127.90L415.09 131.00L412.49 134.10L409.89 131.00ZM415.81 149.90L418.42 153.00L415.81 156.10L413.21 153.00ZM419.14 148.30L421.74 151.40L419.14 154.50L416.54 151.40ZM422.46 170.00L425.06 173.10L422.46 176.20L419.86 173.10ZM425.78 147.00L428.38 150.10L425.78 153.20L423.18 150.10ZM429.11 143.40L431.71 146.50L429.11 149.60L426.50 146.50ZM432.43 160.50L435.03 163.60L432.43 166.70L429.83 163.60ZM435.75 175.90L438.35 179.00L435.75 182.10L433.15 179.00ZM439.07 143.40L441.67 146.50L439.07 149.60L436.47 146.50ZM442.39 167.10L445.00 170.20L442.39 173.30L439.79 170.20ZM445.72 197.50L448.32 200.60L445.72 203.70L443.12 200.60ZM449.04 171.50L451.64 174.60L449.04 177.70L446.44 174.60ZM452.36 181.90L454.96 185.00L452.36 188.10L449.76 185.00ZM455.69 177.30L458.29 180.40L455.69 183.50L453.08 180.40ZM459.01 180.20L461.61 183.30L459.01 186.40L456.41 183.30ZM462.33 199.00L464.93 202.10L462.33 205.20L459.73 202.10ZM465.65 196.90L468.25 200.00L465.65 203.10L463.05 200.00ZM468.98 201.90L471.58 205.00L468.98 208.10L466.38 205.00ZM472.30 191.70L474.90 194.80L472.30 197.90L469.70 194.80ZM475.62 202.60L478.22 205.70L475.62 208.80L473.02 205.70ZM478.94 208.90L481.54 212.00L478.94 215.10L476.34 212.00ZM482.26 181.70L484.87 184.80L482.26 187.90L479.66 184.80ZM485.59 213.60L488.19 216.70L485.59 219.80L482.99 216.70ZM488.91 218.90L491.51 222.00L488.91 225.10L486.31 222.00ZM492.23 211.40L494.83 214.50L492.23 217.60L489.63 214.50ZM495.56 229.40L498.16 232.50L495.56 235.60L492.95 232.50ZM498.88 224.90L501.48 228.00L498.88 231.10L496.28 228.00ZM502.20 212.80L504.80 215.90L502.20 219.00L499.60 215.90ZM505.52 224.90L508.12 228.00L505.52 231.10L502.92 228.00ZM508.85 221.90L511.45 225.00L508.85 228.10L506.25 225.00ZM512.17 230.80L514.77 233.90L512.17 237.00L509.57 233.90ZM515.49 212.80L518.09 215.90L515.49 219.00L512.89 215.90ZM518.81 242.50L521.41 245.60L518.81 248.70L516.21 245.60ZM522.13 221.60L524.74 224.70L522.13 227.80L519.53 224.70ZM525.46 219.40L528.06 222.50L525.46 225.60L522.86 222.50ZM528.78 232.30L531.38 235.40L528.78 238.50L526.18 235.40ZM532.10 232.30L534.70 235.40L532.10 238.50L529.50 235.40ZM535.42 228.90L538.02 232.00L535.42 235.10L532.82 232.00ZM538.75 238.10L541.35 241.20L538.75 244.30L536.15 241.20ZM542.07 230.80L544.67 233.90L542.07 237.00L539.47 233.90ZM545.39 236.90L547.99 240.00L545.39 243.10L542.79 240.00ZM548.72 235.20L551.32 238.30L548.72 241.40L546.12 238.30ZM552.04 241.90L554.64 245.00L552.04 248.10L549.44 245.00ZM555.36 234.50L557.96 237.60L555.36 240.70L552.76 237.60ZM558.68 233.70L561.28 236.80L558.68 239.90L556.08 236.80ZM562.00 235.90L564.61 239.00L562.00 242.10L559.40 239.00ZM565.33 235.20L567.93 238.30L565.33 241.40L562.73 238.30ZM568.65 233.70L571.25 236.80L568.65 239.90L566.05 236.80ZM571.97 241.90L574.57 245.00L571.97 248.10L569.37 245.00ZM575.30 248.10L577.90 251.20L575.30 254.30L572.70 251.20ZM578.62 236.60L581.22 239.70L578.62 242.80L576.02 239.70ZM581.94 244.90L584.54 248.00L581.94 251.10L579.34 248.00ZM585.26 246.90L587.86 250.00L585.26 253.10L582.66 250.00ZM588.59 245.20L591.19 248.30L588.59 251.40L585.99 248.30ZM591.91 242.90L594.51 246.00L591.91 249.10L589.31 246.00ZM595.23 238.00L597.83 241.10L595.23 244.20L592.63 241.10ZM598.55 236.60L601.15 239.70L598.55 242.80L595.95 239.70ZM601.88 248.10L604.48 251.20L601.88 254.30L599.27 251.20ZM605.20 259.60L607.80 262.70L605.20 265.80L602.60 262.70ZM608.52 251.90L611.12 255.00L608.52 258.10L605.92 255.00ZM611.84 253.10L614.44 256.20L611.84 259.30L609.24 256.20ZM615.16 248.90L617.76 252.00L615.16 255.10L612.56 252.00ZM618.49 245.20L621.09 248.30L618.49 251.40L615.89 248.30ZM621.81 248.80L624.41 251.90L621.81 255.00L619.21 251.90ZM625.13 251.90L627.73 255.00L625.13 258.10L622.53 255.00ZM628.46 254.60L631.06 257.70L628.46 260.80L625.86 257.70ZM631.78 249.90L634.38 253.00L631.78 256.10L629.18 253.00ZM635.10 256.00L637.70 259.10L635.10 262.20L632.50 259.10Z" fill="#7cf6fc"/>
<path d="M369.30 158.70V174.70M367.40 158.70H371.20M367.40 174.70H371.20M372.62 159.00V175.00M370.72 159.00H374.52M370.72 175.00H374.52M375.94 168.00V184.00M374.05 168.00H377.84M374.05 184.00H377.84M379.27 174.00V190.00M377.37 174.00H381.17M377.37 190.00H381.17M382.59 170.30V186.30M380.69 170.30H384.49M380.69 186.30H384.49M385.91 170.30V186.30M384.01 170.30H387.81M384.01 186.30H387.81M389.24 205.00V221.00M387.34 205.00H391.13M387.34 221.00H391.13M392.56 183.50V199.50M390.66 183.50H394.46M390.66 199.50H394.46M395.88 187.00V203.00M393.98 187.00H397.78M393.98 203.00H397.78M399.20 184.20V200.20M397.30 184.20H401.10M397.30 200.20H401.10M402.53 208.70V224.70M400.63 208.70H404.43M400.63 224.70H404.43M405.85 206.50V222.50M403.95 206.50H407.75M403.95 222.50H407.75M409.17 205.00V221.00M407.27 205.00H411.07M407.27 221.00H411.07M412.49 201.40V217.40M410.59 201.40H414.39M410.59 217.40H414.39M415.81 190.60V206.60M413.92 190.60H417.71M413.92 206.60H417.71M419.14 212.30V228.30M417.24 212.30H421.04M417.24 228.30H421.04M422.46 208.00V224.00M420.56 208.00H424.36M420.56 224.00H424.36M425.78 216.70V232.70M423.88 216.70H427.68M423.88 232.70H427.68M429.11 232.00V248.00M427.21 232.00H431.00M427.21 248.00H431.00M432.43 226.30V238.30M430.53 226.30H434.33M430.53 238.30H434.33M435.75 226.80V238.80M433.85 226.80H437.65M433.85 238.80H437.65M439.07 218.70V230.70M437.17 218.70H440.97M437.17 230.70H440.97M442.39 218.10V230.10M440.50 218.10H444.29M440.50 230.10H444.29M445.72 222.00V234.00M443.82 222.00H447.62M443.82 234.00H447.62M449.04 227.30V239.30M447.14 227.30H450.94M447.14 239.30H450.94M452.36 233.50V245.50M450.46 233.50H454.26M450.46 245.50H454.26M455.69 233.50V245.50M453.79 233.50H457.58M453.79 245.50H457.58M459.01 221.50V233.50M457.11 221.50H460.91M457.11 233.50H460.91M462.33 235.00V247.00M460.43 235.00H464.23M460.43 247.00H464.23M465.65 234.00V246.00M463.75 234.00H467.55M463.75 246.00H467.55M468.98 232.00V244.00M467.08 232.00H470.88M467.08 244.00H470.88M472.30 236.40V248.40M470.40 236.40H474.20M470.40 248.40H474.20M475.62 240.00V252.00M473.72 240.00H477.52M473.72 252.00H477.52M478.94 234.00V246.00M477.04 234.00H480.84M477.04 246.00H480.84M482.26 238.90V250.90M480.37 238.90H484.16M480.37 250.90H484.16M485.59 240.00V252.00M483.69 240.00H487.49M483.69 252.00H487.49M488.91 229.40V241.40M487.01 229.40H490.81M487.01 241.40H490.81M492.23 244.00V256.00M490.33 244.00H494.13M490.33 256.00H494.13M495.56 241.00V253.00M493.66 241.00H497.45M493.66 253.00H497.45M498.88 243.20V255.20M496.98 243.20H500.78M496.98 255.20H500.78M502.20 246.00V258.00M500.30 246.00H504.10M500.30 258.00H504.10M505.52 242.50V254.50M503.62 242.50H507.42M503.62 254.50H507.42M508.85 236.70V248.70M506.95 236.70H510.75M506.95 248.70H510.75M512.17 244.00V256.00M510.27 244.00H514.07M510.27 256.00H514.07M515.49 246.90V258.90M513.59 246.90H517.39M513.59 258.90H517.39M518.81 248.40V260.40M516.91 248.40H520.71M516.91 260.40H520.71M522.13 245.50V254.50M520.24 245.50H524.03M520.24 254.50H524.03M525.46 250.50V259.50M523.56 250.50H527.36M523.56 259.50H527.36M528.78 249.10V258.10M526.88 249.10H530.68M526.88 258.10H530.68M532.10 251.50V260.50M530.20 251.50H534.00M530.20 260.50H534.00M535.42 249.50V258.50M533.52 249.50H537.32M533.52 258.50H537.32M538.75 253.50V262.50M536.85 253.50H540.65M536.85 262.50H540.65M542.07 252.80V261.80M540.17 252.80H543.97M540.17 261.80H543.97M545.39 255.50V264.50M543.49 255.50H547.29M543.49 264.50H547.29M548.72 254.60V263.60M546.82 254.60H550.62M546.82 263.60H550.62M552.04 257.50V266.50M550.14 257.50H553.94M550.14 266.50H553.94M555.36 253.50V262.50M553.46 253.50H557.26M553.46 262.50H557.26M558.68 257.50V266.50M556.78 257.50H560.58M556.78 266.50H560.58M562.00 256.50V265.50M560.11 256.50H563.90M560.11 265.50H563.90M565.33 253.90V262.90M563.43 253.90H567.23M563.43 262.90H567.23M568.65 259.50V268.50M566.75 259.50H570.55M566.75 268.50H570.55M571.97 257.50V266.50M570.07 257.50H573.87M570.07 266.50H573.87M575.30 258.50V267.50M573.40 258.50H577.20M573.40 267.50H577.20M578.62 259.50V268.50M576.72 259.50H580.52M576.72 268.50H580.52M581.94 261.10V270.10M580.04 261.10H583.84M580.04 270.10H583.84M585.26 258.50V267.50M583.36 258.50H587.16M583.36 267.50H587.16M588.59 257.50V266.50M586.69 257.50H590.49M586.69 266.50H590.49M591.91 261.50V270.50M590.01 261.50H593.81M590.01 270.50H593.81M595.23 259.50V268.50M593.33 259.50H597.13M593.33 268.50H597.13M598.55 263.30V272.30M596.65 263.30H600.45M596.65 272.30H600.45M601.88 257.50V266.50M599.98 257.50H603.77M599.98 266.50H603.77M605.20 254.60V263.60M603.30 254.60H607.10M603.30 263.60H607.10M608.52 258.50V267.50M606.62 258.50H610.42M606.62 267.50H610.42M611.84 260.40V269.40M609.94 260.40H613.74M609.94 269.40H613.74M615.16 261.50V270.50M613.26 261.50H617.06M613.26 270.50H617.06M618.49 259.50V268.50M616.59 259.50H620.39M616.59 268.50H620.39M621.81 260.50V269.50M619.91 260.50H623.71M619.91 269.50H623.71M625.13 261.10V270.10M623.23 261.10H627.03M623.23 270.10H627.03M628.46 262.50V271.50M626.56 262.50H630.36M626.56 271.50H630.36M631.78 261.10V270.10M629.88 261.10H633.68M629.88 270.10H633.68M635.10 262.50V271.50M633.20 262.50H637.00M633.20 271.50H637.00" stroke="#50f030" stroke-width="1.1" fill="none"/>
<path d="M369.30 163.60L371.90 166.70L369.30 169.80L366.70 166.70ZM372.62 163.90L375.22 167.00L372.62 170.10L370.02 167.00ZM375.94 172.90L378.55 176.00L375.94 179.10L373.34 176.00ZM379.27 178.90L381.87 182.00L379.27 185.10L376.67 182.00ZM382.59 175.20L385.19 178.30L382.59 181.40L379.99 178.30ZM385.91 175.20L388.51 178.30L385.91 181.40L383.31 178.30ZM389.24 209.90L391.84 213.00L389.24 216.10L386.63 213.00ZM392.56 188.40L395.16 191.50L392.56 194.60L389.96 191.50ZM395.88 191.90L398.48 195.00L395.88 198.10L393.28 195.00ZM399.20 189.10L401.80 192.20L399.20 195.30L396.60 192.20ZM402.53 213.60L405.13 216.70L402.53 219.80L399.93 216.70ZM405.85 211.40L408.45 214.50L405.85 217.60L403.25 214.50ZM409.17 209.90L411.77 213.00L409.17 216.10L406.57 213.00ZM412.49 206.30L415.09 209.40L412.49 212.50L409.89 209.40ZM415.81 195.50L418.42 198.60L415.81 201.70L413.21 198.60ZM419.14 217.20L421.74 220.30L419.14 223.40L416.54 220.30ZM422.46 212.90L425.06 216.00L422.46 219.10L419.86 216.00ZM425.78 221.60L428.38 224.70L425.78 227.80L423.18 224.70ZM429.11 236.90L431.71 240.00L429.11 243.10L426.50 240.00ZM432.43 229.20L435.03 232.30L432.43 235.40L429.83 232.30ZM435.75 229.70L438.35 232.80L435.75 235.90L433.15 232.80ZM439.07 221.60L441.67 224.70L439.07 227.80L436.47 224.70ZM442.39 221.00L445.00 224.10L442.39 227.20L439.79 224.10ZM445.72 224.90L448.32 228.00L445.72 231.10L443.12 228.00ZM449.04 230.20L451.64 233.30L449.04 236.40L446.44 233.30ZM452.36 236.40L454.96 239.50L452.36 242.60L449.76 239.50ZM455.69 236.40L458.29 239.50L455.69 242.60L453.08 239.50ZM459.01 224.40L461.61 227.50L459.01 230.60L456.41 227.50ZM462.33 237.90L464.93 241.00L462.33 244.10L459.73 241.00ZM465.65 236.90L468.25 240.00L465.65 243.10L463.05 240.00ZM468.98 234.90L471.58 238.00L468.98 241.10L466.38 238.00ZM472.30 239.30L474.90 242.40L472.30 245.50L469.70 242.40ZM475.62 242.90L478.22 246.00L475.62 249.10L473.02 246.00ZM478.94 236.90L481.54 240.00L478.94 243.10L476.34 240.00ZM482.26 241.80L484.87 244.90L482.26 248.00L479.66 244.90ZM485.59 242.90L488.19 246.00L485.59 249.10L482.99 246.00ZM488.91 232.30L491.51 235.40L488.91 238.50L486.31 235.40ZM492.23 246.90L494.83 250.00L492.23 253.10L489.63 250.00ZM495.56 243.90L498.16 247.00L495.56 250.10L492.95 247.00ZM498.88 246.10L501.48 249.20L498.88 252.30L496.28 249.20ZM502.20 248.90L504.80 252.00L502.20 255.10L499.60 252.00ZM505.52 245.40L508.12 248.50L505.52 251.60L502.92 248.50ZM508.85 239.60L511.45 242.70L508.85 245.80L506.25 242.70ZM512.17 246.90L514.77 250.00L512.17 253.10L509.57 250.00ZM515.49 249.80L518.09 252.90L515.49 256.00L512.89 252.90ZM518.81 251.30L521.41 254.40L518.81 257.50L516.21 254.40ZM522.13 246.90L524.74 250.00L522.13 253.10L519.53 250.00ZM525.46 251.90L528.06 255.00L525.46 258.10L522.86 255.00ZM528.78 250.50L531.38 253.60L528.78 256.70L526.18 253.60ZM532.10 252.90L534.70 256.00L532.10 259.10L529.50 256.00ZM535.42 250.90L538.02 254.00L535.42 257.10L532.82 254.00ZM538.75 254.90L541.35 258.00L538.75 261.10L536.15 258.00ZM542.07 254.20L544.67 257.30L542.07 260.40L539.47 257.30ZM545.39 256.90L547.99 260.00L545.39 263.10L542.79 260.00ZM548.72 256.00L551.32 259.10L548.72 262.20L546.12 259.10ZM552.04 258.90L554.64 262.00L552.04 265.10L549.44 262.00ZM555.36 254.90L557.96 258.00L555.36 261.10L552.76 258.00ZM558.68 258.90L561.28 262.00L558.68 265.10L556.08 262.00ZM562.00 257.90L564.61 261.00L562.00 264.10L559.40 261.00ZM565.33 255.30L567.93 258.40L565.33 261.50L562.73 258.40ZM568.65 260.90L571.25 264.00L568.65 267.10L566.05 264.00ZM571.97 258.90L574.57 262.00L571.97 265.10L569.37 262.00ZM575.30 259.90L577.90 263.00L575.30 266.10L572.70 263.00ZM578.62 260.90L581.22 264.00L578.62 267.10L576.02 264.00ZM581.94 262.50L584.54 265.60L581.94 268.70L579.34 265.60ZM585.26 259.90L587.86 263.00L585.26 266.10L582.66 263.00ZM588.59 258.90L591.19 262.00L588.59 265.10L585.99 262.00ZM591.91 262.90L594.51 266.00L591.91 269.10L589.31 266.00ZM595.23 260.90L597.83 264.00L595.23 267.10L592.63 264.00ZM598.55 264.70L601.15 267.80L598.55 270.90L595.95 267.80ZM601.88 258.90L604.48 262.00L601.88 265.10L599.27 262.00ZM605.20 256.00L607.80 259.10L605.20 262.20L602.60 259.10ZM608.52 259.90L611.12 263.00L608.52 266.10L605.92 263.00ZM611.84 261.80L614.44 264.90L611.84 268.00L609.24 264.90ZM615.16 262.90L617.76 266.00L615.16 269.10L612.56 266.00ZM618.49 260.90L621.09 264.00L618.49 267.10L615.89 264.00ZM621.81 261.90L624.41 265.00L621.81 268.10L619.21 265.00ZM625.13 262.50L627.73 265.60L625.13 268.70L622.53 265.60ZM628.46 263.90L631.06 267.00L628.46 270.10L625.86 267.00ZM631.78 262.50L634.38 265.60L631.78 268.70L629.18 265.60ZM635.10 263.90L637.70 267.00L635.10 270.10L632.50 267.00Z" fill="#48f028"/>
<path d="M369.30 219.00V231.00M367.40 219.00H371.20M367.40 231.00H371.20M372.62 227.20V239.20M370.72 227.20H374.52M370.72 239.20H374.52M375.94 224.00V236.00M374.05 224.00H377.84M374.05 236.00H377.84M379.27 231.60V243.60M377.37 231.60H381.17M377.37 243.60H381.17M382.59 226.00V238.00M380.69 226.00H384.49M380.69 238.00H384.49M385.91 211.20V223.20M384.01 211.20H387.81M384.01 223.20H387.81M389.24 234.50V246.50M387.34 234.50H391.13M387.34 246.50H391.13M392.56 232.00V244.00M390.66 232.00H394.46M390.66 244.00H394.46M395.88 236.70V248.70M393.98 236.70H397.78M393.98 248.70H397.78M399.20 234.00V246.00M397.30 234.00H401.10M397.30 246.00H401.10M402.53 239.60V251.60M400.63 239.60H404.43M400.63 251.60H404.43M405.85 216.50V228.50M403.95 216.50H407.75M403.95 228.50H407.75M409.17 238.00V250.00M407.27 238.00H411.07M407.27 250.00H411.07M412.49 242.50V254.50M410.59 242.50H414.39M410.59 254.50H414.39M415.81 233.80V245.80M413.92 233.80H417.71M413.92 245.80H417.71M419.14 240.00V252.00M417.24 240.00H421.04M417.24 252.00H421.04M422.46 242.00V254.00M420.56 242.00H424.36M420.56 254.00H424.36M425.78 244.70V256.70M423.88 244.70H427.68M423.88 256.70H427.68M429.11 243.00V255.00M427.21 243.00H431.00M427.21 255.00H431.00M432.43 246.20V258.20M430.53 246.20H434.33M430.53 258.20H434.33M435.75 252.70V264.70M433.85 252.70H437.65M433.85 264.70H437.65M439.07 235.00V247.00M437.17 235.00H440.97M437.17 247.00H440.97M442.39 246.00V258.00M440.50 246.00H444.29M440.50 258.00H444.29M445.72 249.10V261.10M443.82 249.10H447.62M443.82 261.10H447.62M449.04 246.00V258.00M447.14 246.00H450.94M447.14 258.00H450.94M452.36 251.30V263.30M450.46 251.30H454.26M450.46 263.30H454.26M455.69 249.00V261.00M453.79 249.00H457.58M453.79 261.00H457.58M459.01 257.10V269.10M457.11 257.10H460.91M457.11 269.10H460.91M462.33 257.10V269.10M460.43 257.10H464.23M460.43 269.10H464.23M465.65 246.90V258.90M463.75 246.90H467.55M463.75 258.90H467.55M468.98 252.00V264.00M467.08 252.00H470.88M467.08 264.00H470.88M472.30 254.90V266.90M470.40 254.90H474.20M470.40 266.90H474.20M475.62 252.00V264.00M473.72 252.00H477.52M473.72 264.00H477.52M478.94 256.00V268.00M477.04 256.00H480.84M477.04 268.00H480.84M482.26 258.60V270.60M480.37 258.60H484.16M480.37 270.60H484.16M485.59 254.00V266.00M483.69 254.00H487.49M483.69 266.00H487.49M488.91 256.00V268.00M487.01 256.00H490.81M487.01 268.00H490.81M492.23 259.30V271.30M490.33 259.30H494.13M490.33 271.30H494.13M495.56 260.00V272.00M493.66 260.00H497.45M493.66 272.00H497.45M498.88 256.00V268.00M496.98 256.00H500.78M496.98 268.00H500.78M502.20 259.00V267.00M500.30 259.00H504.10M500.30 267.00H504.10M505.52 260.00V268.00M503.62 260.00H507.42M503.62 268.00H507.42M508.85 262.80V270.80M506.95 262.80H510.75M506.95 270.80H510.75M512.17 258.00V266.00M510.27 258.00H514.07M510.27 266.00H514.07M515.49 261.30V269.30M513.59 261.30H517.39M513.59 269.30H517.39M518.81 260.00V268.00M516.91 260.00H520.71M516.91 268.00H520.71M522.13 262.00V270.00M520.24 262.00H524.03M520.24 270.00H524.03M525.46 263.00V271.00M523.56 263.00H527.36M523.56 271.00H527.36M528.78 265.20V273.20M526.88 265.20H530.68M526.88 273.20H530.68M532.10 265.20V273.20M530.20 265.20H534.00M530.20 273.20H534.00M535.42 262.00V270.00M533.52 262.00H537.32M533.52 270.00H537.32M538.75 256.20V264.20M536.85 256.20H540.65M536.85 264.20H540.65M542.07 265.20V273.20M540.17 265.20H543.97M540.17 273.20H543.97M545.39 264.00V272.00M543.49 264.00H547.29M543.49 272.00H547.29M548.72 265.00V273.00M546.82 265.00H550.62M546.82 273.00H550.62M552.04 262.00V270.00M550.14 262.00H553.94M550.14 270.00H553.94M555.36 266.00V274.00M553.46 266.00H557.26M553.46 274.00H557.26M558.68 264.00V272.00M556.78 264.00H560.58M556.78 272.00H560.58M562.00 267.00V275.00M560.11 267.00H563.90M560.11 275.00H563.90M565.33 265.00V273.00M563.43 265.00H567.23M563.43 273.00H567.23M568.65 266.00V274.00M566.75 266.00H570.55M566.75 274.00H570.55M571.97 264.00V272.00M570.07 264.00H573.87M570.07 272.00H573.87M575.30 266.00V274.00M573.40 266.00H577.20M573.40 274.00H577.20M578.62 267.00V275.00M576.72 267.00H580.52M576.72 275.00H580.52M581.94 264.00V272.00M580.04 264.00H583.84M580.04 272.00H583.84M585.26 267.00V275.00M583.36 267.00H587.16M583.36 275.00H587.16M588.59 266.00V274.00M586.69 266.00H590.49M586.69 274.00H590.49M591.91 268.00V276.00M590.01 268.00H593.81M590.01 276.00H593.81M595.23 266.00V274.00M593.33 266.00H597.13M593.33 274.00H597.13M598.55 267.00V275.00M596.65 267.00H600.45M596.65 275.00H600.45M601.88 264.00V272.00M599.98 264.00H603.77M599.98 272.00H603.77M605.20 267.00V275.00M603.30 267.00H607.10M603.30 275.00H607.10M608.52 266.00V274.00M606.62 266.00H610.42M606.62 274.00H610.42M611.84 268.00V276.00M609.94 268.00H613.74M609.94 276.00H613.74M615.16 266.00V274.00M613.26 266.00H617.06M613.26 274.00H617.06M618.49 267.00V275.00M616.59 267.00H620.39M616.59 275.00H620.39M621.81 266.00V274.00M619.91 266.00H623.71M619.91 274.00H623.71M625.13 268.00V276.00M623.23 268.00H627.03M623.23 276.00H627.03M628.46 267.00V275.00M626.56 267.00H630.36M626.56 275.00H630.36M631.78 266.00V274.00M629.88 266.00H633.68M629.88 274.00H633.68M635.10 267.00V275.00M633.20 267.00H637.00M633.20 275.00H637.00" stroke="#ff3020" stroke-width="1.1" fill="none"/>
<path d="M369.30 221.90L371.90 225.00L369.30 228.10L366.70 225.00ZM372.62 230.10L375.22 233.20L372.62 236.30L370.02 233.20ZM375.94 226.90L378.55 230.00L375.94 233.10L373.34 230.00ZM379.27 234.50L381.87 237.60L379.27 240.70L376.67 237.60ZM382.59 228.90L385.19 232.00L382.59 235.10L379.99 232.00ZM385.91 214.10L388.51 217.20L385.91 220.30L383.31 217.20ZM389.24 237.40L391.84 240.50L389.24 243.60L386.63 240.50ZM392.56 234.90L395.16 238.00L392.56 241.10L389.96 238.00ZM395.88 239.60L398.48 242.70L395.88 245.80L393.28 242.70ZM399.20 236.90L401.80 240.00L399.20 243.10L396.60 240.00ZM402.53 242.50L405.13 245.60L402.53 248.70L399.93 245.60ZM405.85 219.40L408.45 222.50L405.85 225.60L403.25 222.50ZM409.17 240.90L411.77 244.00L409.17 247.10L406.57 244.00ZM412.49 245.40L415.09 248.50L412.49 251.60L409.89 248.50ZM415.81 236.70L418.42 239.80L415.81 242.90L413.21 239.80ZM419.14 242.90L421.74 246.00L419.14 249.10L416.54 246.00ZM422.46 244.90L425.06 248.00L422.46 251.10L419.86 248.00ZM425.78 247.60L428.38 250.70L425.78 253.80L423.18 250.70ZM429.11 245.90L431.71 249.00L429.11 252.10L426.50 249.00ZM432.43 249.10L435.03 252.20L432.43 255.30L429.83 252.20ZM435.75 255.60L438.35 258.70L435.75 261.80L433.15 258.70ZM439.07 237.90L441.67 241.00L439.07 244.10L436.47 241.00ZM442.39 248.90L445.00 252.00L442.39 255.10L439.79 252.00ZM445.72 252.00L448.32 255.10L445.72 258.20L443.12 255.10ZM449.04 248.90L451.64 252.00L449.04 255.10L446.44 252.00ZM452.36 254.20L454.96 257.30L452.36 260.40L449.76 257.30ZM455.69 251.90L458.29 255.00L455.69 258.10L453.08 255.00ZM459.01 260.00L461.61 263.10L459.01 266.20L456.41 263.10ZM462.33 260.00L464.93 263.10L462.33 266.20L459.73 263.10ZM465.65 249.80L468.25 252.90L465.65 256.00L463.05 252.90ZM468.98 254.90L471.58 258.00L468.98 261.10L466.38 258.00ZM472.30 257.80L474.90 260.90L472.30 264.00L469.70 260.90ZM475.62 254.90L478.22 258.00L475.62 261.10L473.02 258.00ZM478.94 258.90L481.54 262.00L478.94 265.10L476.34 262.00ZM482.26 261.50L484.87 264.60L482.26 267.70L479.66 264.60ZM485.59 256.90L488.19 260.00L485.59 263.10L482.99 260.00ZM488.91 258.90L491.51 262.00L488.91 265.10L486.31 262.00ZM492.23 262.20L494.83 265.30L492.23 268.40L489.63 265.30ZM495.56 262.90L498.16 266.00L495.56 269.10L492.95 266.00ZM498.88 258.90L501.48 262.00L498.88 265.10L496.28 262.00ZM502.20 259.90L504.80 263.00L502.20 266.10L499.60 263.00ZM505.52 260.90L508.12 264.00L505.52 267.10L502.92 264.00ZM508.85 263.70L511.45 266.80L508.85 269.90L506.25 266.80ZM512.17 258.90L514.77 262.00L512.17 265.10L509.57 262.00ZM515.49 262.20L518.09 265.30L515.49 268.40L512.89 265.30ZM518.81 260.90L521.41 264.00L518.81 267.10L516.21 264.00ZM522.13 262.90L524.74 266.00L522.13 269.10L519.53 266.00ZM525.46 263.90L528.06 267.00L525.46 270.10L522.86 267.00ZM528.78 266.10L531.38 269.20L528.78 272.30L526.18 269.20ZM532.10 266.10L534.70 269.20L532.10 272.30L529.50 269.20ZM535.42 262.90L538.02 266.00L535.42 269.10L532.82 266.00ZM538.75 257.10L541.35 260.20L538.75 263.30L536.15 260.20ZM542.07 266.10L544.67 269.20L542.07 272.30L539.47 269.20ZM545.39 264.90L547.99 268.00L545.39 271.10L542.79 268.00ZM548.72 265.90L551.32 269.00L548.72 272.10L546.12 269.00ZM552.04 262.90L554.64 266.00L552.04 269.10L549.44 266.00ZM555.36 266.90L557.96 270.00L555.36 273.10L552.76 270.00ZM558.68 264.90L561.28 268.00L558.68 271.10L556.08 268.00ZM562.00 267.90L564.61 271.00L562.00 274.10L559.40 271.00ZM565.33 265.90L567.93 269.00L565.33 272.10L562.73 269.00ZM568.65 266.90L571.25 270.00L568.65 273.10L566.05 270.00ZM571.97 264.90L574.57 268.00L571.97 271.10L569.37 268.00ZM575.30 266.90L577.90 270.00L575.30 273.10L572.70 270.00ZM578.62 267.90L581.22 271.00L578.62 274.10L576.02 271.00ZM581.94 264.90L584.54 268.00L581.94 271.10L579.34 268.00ZM585.26 267.90L587.86 271.00L585.26 274.10L582.66 271.00ZM588.59 266.90L591.19 270.00L588.59 273.10L585.99 270.00ZM591.91 268.90L594.51 272.00L591.91 275.10L589.31 272.00ZM595.23 266.90L597.83 270.00L595.23 273.10L592.63 270.00ZM598.55 267.90L601.15 271.00L598.55 274.10L595.95 271.00ZM601.88 264.90L604.48 268.00L601.88 271.10L599.27 268.00ZM605.20 267.90L607.80 271.00L605.20 274.10L602.60 271.00ZM608.52 266.90L611.12 270.00L608.52 273.10L605.92 270.00ZM611.84 268.90L614.44 272.00L611.84 275.10L609.24 272.00ZM615.16 266.90L617.76 270.00L615.16 273.10L612.56 270.00ZM618.49 267.90L621.09 271.00L618.49 274.10L615.89 271.00ZM621.81 266.90L624.41 270.00L621.81 273.10L619.21 270.00ZM625.13 268.90L627.73 272.00L625.13 275.10L622.53 272.00ZM628.46 267.90L631.06 271.00L628.46 274.10L625.86 271.00ZM631.78 266.90L634.38 270.00L631.78 273.10L629.18 270.00ZM635.10 267.90L637.70 271.00L635.10 274.10L632.50 271.00Z" fill="#ff2a18"/>
<path d="M369.30 229.00V241.00M367.40 229.00H371.20M367.40 241.00H371.20M372.62 212.80V224.80M370.72 212.80H374.52M370.72 224.80H374.52M375.94 231.10V243.10M374.05 231.10H377.84M374.05 243.10H377.84M379.27 210.70V222.70M377.37 210.70H381.17M377.37 222.70H381.17M382.59 234.10V246.10M380.69 234.10H384.49M380.69 246.10H384.49M385.91 225.70V237.70M384.01 225.70H387.81M384.01 237.70H387.81M389.24 227.90V239.90M387.34 227.90H391.13M387.34 239.90H391.13M392.56 233.80V245.80M390.66 233.80H394.46M390.66 245.80H394.46M395.88 221.60V233.60M393.98 221.60H397.78M393.98 233.60H397.78M399.20 230.10V242.10M397.30 230.10H401.10M397.30 242.10H401.10M402.53 225.70V237.70M400.63 225.70H404.43M400.63 237.70H404.43M405.85 236.40V248.40M403.95 236.40H407.75M403.95 248.40H407.75M409.17 231.10V243.10M407.27 231.10H411.07M407.27 243.10H411.07M412.49 228.20V240.20M410.59 228.20H414.39M410.59 240.20H414.39M415.81 239.90V251.90M413.92 239.90H417.71M413.92 251.90H417.71M419.14 238.10V250.10M417.24 238.10H421.04M417.24 250.10H421.04M422.46 241.80V253.80M420.56 241.80H424.36M420.56 253.80H424.36M425.78 240.30V252.30M423.88 240.30H427.68M423.88 252.30H427.68M429.11 251.30V263.30M427.21 251.30H431.00M427.21 263.30H431.00M432.43 238.10V250.10M430.53 238.10H434.33M430.53 250.10H434.33M435.75 240.30V252.30M433.85 240.30H437.65M433.85 252.30H437.65M439.07 245.40V257.40M437.17 245.40H440.97M437.17 257.40H440.97M442.39 248.10V260.10M440.50 248.10H444.29M440.50 260.10H444.29M445.72 232.30V244.30M443.82 232.30H447.62M443.82 244.30H447.62M449.04 247.20V259.20M447.14 247.20H450.94M447.14 259.20H450.94M452.36 248.40V260.40M450.46 248.40H454.26M450.46 260.40H454.26M455.69 244.00V256.00M453.79 244.00H457.58M453.79 256.00H457.58M459.01 248.40V260.40M457.11 248.40H460.91M457.11 260.40H460.91M462.33 240.30V252.30M460.43 240.30H464.23M460.43 252.30H464.23M465.65 241.80V253.80M463.75 241.80H467.55M463.75 253.80H467.55M468.98 247.60V259.60M467.08 247.60H470.88M467.08 259.60H470.88M472.30 246.20V258.20M470.40 246.20H474.20M470.40 258.20H474.20M475.62 249.80V261.80M473.72 249.80H477.52M473.72 261.80H477.52M478.94 254.20V266.20M477.04 254.20H480.84M477.04 266.20H480.84M482.26 252.70V264.70M480.37 252.70H484.16M480.37 264.70H484.16M485.59 248.40V260.40M483.69 248.40H487.49M483.69 260.40H487.49M488.91 248.40V260.40M487.01 248.40H490.81M487.01 260.40H490.81M492.23 253.50V265.50M490.33 253.50H494.13M490.33 265.50H494.13M495.56 254.90V266.90M493.66 254.90H497.45M493.66 266.90H497.45M498.88 249.50V261.50M496.98 249.50H500.78M496.98 261.50H500.78M502.20 262.30V270.30M500.30 262.30H504.10M500.30 270.30H504.10M505.52 259.80V267.80M503.62 259.80H507.42M503.62 267.80H507.42M508.85 253.30V261.30M506.95 253.30H510.75M506.95 261.30H510.75M512.17 258.40V266.40M510.27 258.40H514.07M510.27 266.40H514.07M515.49 255.90V263.90M513.59 255.90H517.39M513.59 263.90H517.39M518.81 265.20V273.20M516.91 265.20H520.71M516.91 273.20H520.71M522.13 256.90V264.90M520.24 256.90H524.03M520.24 264.90H524.03M525.46 258.40V266.40M523.56 258.40H527.36M523.56 266.40H527.36M528.78 259.80V267.80M526.88 259.80H530.68M526.88 267.80H530.68M532.10 258.40V266.40M530.20 258.40H534.00M530.20 266.40H534.00M535.42 263.50V271.50M533.52 263.50H537.32M533.52 271.50H537.32M538.75 264.20V272.20M536.85 264.20H540.65M536.85 272.20H540.65M542.07 261.30V269.30M540.17 261.30H543.97M540.17 269.30H543.97M545.39 261.30V269.30M543.49 261.30H547.29M543.49 269.30H547.29M548.72 264.20V272.20M546.82 264.20H550.62M546.82 272.20H550.62M552.04 258.40V266.40M550.14 258.40H553.94M550.14 266.40H553.94M555.36 265.20V273.20M553.46 265.20H557.26M553.46 273.20H557.26M558.68 261.50V269.50M556.78 261.50H560.58M556.78 269.50H560.58M562.00 263.80V271.80M560.11 263.80H563.90M560.11 271.80H563.90M565.33 261.50V269.50M563.43 261.50H567.23M563.43 269.50H567.23M568.65 266.20V274.20M566.75 266.20H570.55M566.75 274.20H570.55M571.97 257.30V265.30M570.07 257.30H573.87M570.07 265.30H573.87M575.30 261.60V269.60M573.40 261.60H577.20M573.40 269.60H577.20M578.62 258.00V266.00M576.72 258.00H580.52M576.72 266.00H580.52M581.94 262.00V270.00M580.04 262.00H583.84M580.04 270.00H583.84M585.26 265.20V273.20M583.36 265.20H587.16M583.36 273.20H587.16M588.59 265.90V273.90M586.69 265.90H590.49M586.69 273.90H590.49M591.91 262.30V270.30M590.01 262.30H593.81M590.01 270.30H593.81M595.23 260.20V268.20M593.33 260.20H597.13M593.33 268.20H597.13M598.55 258.00V266.00M596.65 258.00H600.45M596.65 266.00H600.45M601.88 267.40V275.40M599.98 267.40H603.77M599.98 275.40H603.77M605.20 263.80V271.80M603.30 263.80H607.10M603.30 271.80H607.10M608.52 267.40V275.40M606.62 267.40H610.42M606.62 275.40H610.42M611.84 265.20V273.20M609.94 265.20H613.74M609.94 273.20H613.74M615.16 266.70V274.70M613.26 266.70H617.06M613.26 274.70H617.06M618.49 266.70V274.70M616.59 266.70H620.39M616.59 274.70H620.39M621.81 263.80V271.80M619.91 263.80H623.71M619.91 271.80H623.71M625.13 265.20V273.20M623.23 265.20H627.03M623.23 273.20H627.03M628.46 265.90V273.90M626.56 265.90H630.36M626.56 273.90H630.36M631.78 265.20V273.20M629.88 265.20H633.68M629.88 273.20H633.68M635.10 267.40V275.40M633.20 267.40H637.00M633.20 275.40H637.00" stroke="#ff70ff" stroke-width="1.1" fill="none"/>
<path d="M369.30 232.10L371.70 235.00L369.30 237.90L366.90 235.00ZM372.62 215.90L375.02 218.80L372.62 221.70L370.22 218.80ZM375.94 234.20L378.34 237.10L375.94 240.00L373.55 237.10ZM379.27 213.80L381.67 216.70L379.27 219.60L376.87 216.70ZM382.59 237.20L384.99 240.10L382.59 243.00L380.19 240.10ZM385.91 228.80L388.31 231.70L385.91 234.60L383.51 231.70ZM389.24 231.00L391.63 233.90L389.24 236.80L386.84 233.90ZM392.56 236.90L394.96 239.80L392.56 242.70L390.16 239.80ZM395.88 224.70L398.28 227.60L395.88 230.50L393.48 227.60ZM399.20 233.20L401.60 236.10L399.20 239.00L396.80 236.10ZM402.53 228.80L404.93 231.70L402.53 234.60L400.13 231.70ZM405.85 239.50L408.25 242.40L405.85 245.30L403.45 242.40ZM409.17 234.20L411.57 237.10L409.17 240.00L406.77 237.10ZM412.49 231.30L414.89 234.20L412.49 237.10L410.09 234.20ZM415.81 243.00L418.21 245.90L415.81 248.80L413.42 245.90ZM419.14 241.20L421.54 244.10L419.14 247.00L416.74 244.10ZM422.46 244.90L424.86 247.80L422.46 250.70L420.06 247.80ZM425.78 243.40L428.18 246.30L425.78 249.20L423.38 246.30ZM429.11 254.40L431.50 257.30L429.11 260.20L426.71 257.30ZM432.43 241.20L434.83 244.10L432.43 247.00L430.03 244.10ZM435.75 243.40L438.15 246.30L435.75 249.20L433.35 246.30ZM439.07 248.50L441.47 251.40L439.07 254.30L436.67 251.40ZM442.39 251.20L444.79 254.10L442.39 257.00L440.00 254.10ZM445.72 235.40L448.12 238.30L445.72 241.20L443.32 238.30ZM449.04 250.30L451.44 253.20L449.04 256.10L446.64 253.20ZM452.36 251.50L454.76 254.40L452.36 257.30L449.96 254.40ZM455.69 247.10L458.08 250.00L455.69 252.90L453.29 250.00ZM459.01 251.50L461.41 254.40L459.01 257.30L456.61 254.40ZM462.33 243.40L464.73 246.30L462.33 249.20L459.93 246.30ZM465.65 244.90L468.05 247.80L465.65 250.70L463.25 247.80ZM468.98 250.70L471.38 253.60L468.98 256.50L466.58 253.60ZM472.30 249.30L474.70 252.20L472.30 255.10L469.90 252.20ZM475.62 252.90L478.02 255.80L475.62 258.70L473.22 255.80ZM478.94 257.30L481.34 260.20L478.94 263.10L476.54 260.20ZM482.26 255.80L484.66 258.70L482.26 261.60L479.87 258.70ZM485.59 251.50L487.99 254.40L485.59 257.30L483.19 254.40ZM488.91 251.50L491.31 254.40L488.91 257.30L486.51 254.40ZM492.23 256.60L494.63 259.50L492.23 262.40L489.83 259.50ZM495.56 258.00L497.95 260.90L495.56 263.80L493.16 260.90ZM498.88 252.60L501.28 255.50L498.88 258.40L496.48 255.50ZM502.20 263.40L504.60 266.30L502.20 269.20L499.80 266.30ZM505.52 260.90L507.92 263.80L505.52 266.70L503.12 263.80ZM508.85 254.40L511.25 257.30L508.85 260.20L506.45 257.30ZM512.17 259.50L514.57 262.40L512.17 265.30L509.77 262.40ZM515.49 257.00L517.89 259.90L515.49 262.80L513.09 259.90ZM518.81 266.30L521.21 269.20L518.81 272.10L516.41 269.20ZM522.13 258.00L524.53 260.90L522.13 263.80L519.74 260.90ZM525.46 259.50L527.86 262.40L525.46 265.30L523.06 262.40ZM528.78 260.90L531.18 263.80L528.78 266.70L526.38 263.80ZM532.10 259.50L534.50 262.40L532.10 265.30L529.70 262.40ZM535.42 264.60L537.82 267.50L535.42 270.40L533.02 267.50ZM538.75 265.30L541.15 268.20L538.75 271.10L536.35 268.20ZM542.07 262.40L544.47 265.30L542.07 268.20L539.67 265.30ZM545.39 262.40L547.79 265.30L545.39 268.20L542.99 265.30ZM548.72 265.30L551.12 268.20L548.72 271.10L546.32 268.20ZM552.04 259.50L554.44 262.40L552.04 265.30L549.64 262.40ZM555.36 266.30L557.76 269.20L555.36 272.10L552.96 269.20ZM558.68 262.60L561.08 265.50L558.68 268.40L556.28 265.50ZM562.00 264.90L564.40 267.80L562.00 270.70L559.61 267.80ZM565.33 262.60L567.73 265.50L565.33 268.40L562.93 265.50ZM568.65 267.30L571.05 270.20L568.65 273.10L566.25 270.20ZM571.97 258.40L574.37 261.30L571.97 264.20L569.57 261.30ZM575.30 262.70L577.70 265.60L575.30 268.50L572.90 265.60ZM578.62 259.10L581.02 262.00L578.62 264.90L576.22 262.00ZM581.94 263.10L584.34 266.00L581.94 268.90L579.54 266.00ZM585.26 266.30L587.66 269.20L585.26 272.10L582.86 269.20ZM588.59 267.00L590.99 269.90L588.59 272.80L586.19 269.90ZM591.91 263.40L594.31 266.30L591.91 269.20L589.51 266.30ZM595.23 261.30L597.63 264.20L595.23 267.10L592.83 264.20ZM598.55 259.10L600.95 262.00L598.55 264.90L596.15 262.00ZM601.88 268.50L604.27 271.40L601.88 274.30L599.48 271.40ZM605.20 264.90L607.60 267.80L605.20 270.70L602.80 267.80ZM608.52 268.50L610.92 271.40L608.52 274.30L606.12 271.40ZM611.84 266.30L614.24 269.20L611.84 272.10L609.44 269.20ZM615.16 267.80L617.56 270.70L615.16 273.60L612.76 270.70ZM618.49 267.80L620.89 270.70L618.49 273.60L616.09 270.70ZM621.81 264.90L624.21 267.80L621.81 270.70L619.41 267.80ZM625.13 266.30L627.53 269.20L625.13 272.10L622.73 269.20ZM628.46 267.00L630.86 269.90L628.46 272.80L626.06 269.90ZM631.78 266.30L634.18 269.20L631.78 272.10L629.38 269.20ZM635.10 268.50L637.50 271.40L635.10 274.30L632.70 271.40Z" fill="#ec3cff" stroke="#300030" stroke-width="0.8"/>
<g fill="#1010ff" stroke="#000010" stroke-width="0.75"><circle cx="369.60" cy="216.00" r="2.0"/><circle cx="373.30" cy="200.80" r="2.0"/><circle cx="376.60" cy="186.90" r="2.0"/><circle cx="380.70" cy="173.60" r="2.0"/><circle cx="384.10" cy="164.60" r="2.0"/><circle cx="387.90" cy="157.60" r="2.0"/><circle cx="391.40" cy="149.50" r="2.0"/><circle cx="395.20" cy="141.00" r="2.0"/><circle cx="398.60" cy="133.00" r="2.0"/><circle cx="402.30" cy="127.50" r="2.0"/><circle cx="405.80" cy="122.40" r="2.0"/><circle cx="409.30" cy="116.10" r="2.0"/><circle cx="413.00" cy="111.30" r="2.0"/><circle cx="416.60" cy="109.90" r="2.0"/><circle cx="420.30" cy="108.40" r="2.0"/><circle cx="423.90" cy="102.60" r="2.0"/><circle cx="427.60" cy="99.60" r="2.0"/><circle cx="431.20" cy="96.50" r="2.0"/><circle cx="434.90" cy="93.30" r="2.0"/><circle cx="438.50" cy="91.10" r="2.0"/><circle cx="442.20" cy="89.70" r="2.0"/><circle cx="445.80" cy="88.70" r="2.0"/><circle cx="449.50" cy="87.20" r="2.0"/><circle cx="453.10" cy="86.00" r="2.0"/><circle cx="456.80" cy="84.90" r="2.0"/><circle cx="460.40" cy="83.40" r="2.0"/><circle cx="464.10" cy="82.00" r="2.0"/><circle cx="467.70" cy="81.40" r="2.0"/><circle cx="471.40" cy="80.20" r="2.0"/><circle cx="475.00" cy="79.50" r="2.0"/><circle cx="478.70" cy="78.40" r="2.0"/><circle cx="482.30" cy="77.30" r="2.0"/><circle cx="486.00" cy="75.50" r="2.0"/><circle cx="489.60" cy="74.10" r="2.0"/><circle cx="493.30" cy="73.20" r="2.0"/><circle cx="496.90" cy="72.20" r="2.0"/><circle cx="500.60" cy="71.10" r="2.0"/><circle cx="504.20" cy="70.00" r="2.0"/><circle cx="507.90" cy="68.80" r="2.0"/><circle cx="511.50" cy="68.20" r="2.0"/><circle cx="515.20" cy="67.40" r="2.0"/><circle cx="518.80" cy="66.30" r="2.0"/><circle cx="522.50" cy="65.20" r="2.0"/><circle cx="526.10" cy="63.80" r="2.0"/><circle cx="529.80" cy="62.00" r="2.0"/><circle cx="533.40" cy="60.80" r="2.0"/><circle cx="537.10" cy="60.50" r="2.0"/><circle cx="540.70" cy="60.10" r="2.0"/><circle cx="544.40" cy="59.50" r="2.0"/><circle cx="548.00" cy="60.50" r="2.0"/><circle cx="551.70" cy="62.00" r="2.0"/><circle cx="555.30" cy="60.50" r="2.0"/><circle cx="559.00" cy="60.10" r="2.0"/><circle cx="562.60" cy="59.00" r="2.0"/><circle cx="566.30" cy="59.50" r="2.0"/><circle cx="569.60" cy="59.00" r="2.0"/><circle cx="573.30" cy="60.40" r="2.0"/><circle cx="576.90" cy="59.00" r="2.0"/><circle cx="580.60" cy="58.20" r="2.0"/><circle cx="584.20" cy="57.50" r="2.0"/><circle cx="587.90" cy="56.40" r="2.0"/><circle cx="591.50" cy="55.80" r="2.0"/><circle cx="595.20" cy="56.50" r="2.0"/><circle cx="598.80" cy="56.80" r="2.0"/><circle cx="602.50" cy="56.40" r="2.0"/><circle cx="606.10" cy="55.30" r="2.0"/><circle cx="609.80" cy="54.20" r="2.0"/><circle cx="613.40" cy="53.10" r="2.0"/><circle cx="617.10" cy="53.40" r="2.0"/><circle cx="620.70" cy="51.70" r="2.0"/><circle cx="624.40" cy="50.90" r="2.0"/><circle cx="628.00" cy="50.90" r="2.0"/><circle cx="631.70" cy="49.80" r="2.0"/><circle cx="635.30" cy="49.80" r="2.0"/></g>
<path d="M369.30 198.00V218.00M367.40 198.00H371.20M367.40 218.00H371.20M372.62 188.00V208.00M370.72 188.00H374.52M370.72 208.00H374.52M375.94 161.60V181.60M374.05 161.60H377.84M374.05 181.60H377.84M379.27 180.70V200.70M377.37 180.70H381.17M377.37 200.70H381.17M382.59 175.00V195.00M380.69 175.00H384.49M380.69 195.00H384.49M385.91 176.50V196.50M384.01 176.50H387.81M384.01 196.50H387.81M389.24 139.80V159.80M387.34 139.80H391.13M387.34 159.80H391.13M392.56 147.50V161.50M390.66 147.50H394.46M390.66 161.50H394.46M395.88 159.70V173.70M393.98 159.70H397.78M393.98 173.70H397.78M399.20 147.90V161.90M397.30 147.90H401.10M397.30 161.90H401.10M402.53 132.90V146.90M400.63 132.90H404.43M400.63 146.90H404.43M405.85 132.20V146.20M403.95 132.20H407.75M403.95 146.20H407.75M409.17 131.00V145.00M407.27 131.00H411.07M407.27 145.00H411.07M412.49 133.50V147.50M410.59 133.50H414.39M410.59 147.50H414.39M415.81 126.80V140.80M413.92 126.80H417.71M413.92 140.80H417.71M419.14 114.50V128.50M417.24 114.50H421.04M417.24 128.50H421.04M422.46 100.70V114.70M420.56 100.70H424.36M420.56 114.70H424.36M425.78 110.90V121.90M423.88 110.90H427.68M423.88 121.90H427.68M429.11 98.50V109.50M427.21 98.50H431.00M427.21 109.50H431.00M432.43 102.90V113.90M430.53 102.90H434.33M430.53 113.90H434.33M435.75 84.90V95.90M433.85 84.90H437.65M433.85 95.90H437.65M439.07 115.30V126.30M437.17 115.30H440.97M437.17 126.30H440.97M442.39 95.60V106.60M440.50 95.60H444.29M440.50 106.60H444.29M445.72 82.00V93.00M443.82 82.00H447.62M443.82 93.00H447.62M449.04 92.00V103.00M447.14 92.00H450.94M447.14 103.00H450.94M452.36 75.00V84.00M450.46 75.00H454.26M450.46 84.00H454.26M455.69 85.90V94.90M453.79 85.90H457.58M453.79 94.90H457.58M459.01 80.80V89.80M457.11 80.80H460.91M457.11 89.80H460.91M462.33 71.30V80.30M460.43 71.30H464.23M460.43 80.30H464.23M465.65 74.20V83.20M463.75 74.20H467.55M463.75 83.20H467.55M468.98 69.10V78.10M467.08 69.10H470.88M467.08 78.10H470.88M472.30 74.20V83.20M470.40 74.20H474.20M470.40 83.20H474.20M475.62 64.70V73.70M473.72 64.70H477.52M473.72 73.70H477.52M478.94 61.10V70.10M477.04 61.10H480.84M477.04 70.10H480.84M482.26 59.50V68.50M480.37 59.50H484.16M480.37 68.50H484.16M485.59 57.90V66.90M483.69 57.90H487.49M483.69 66.90H487.49M488.91 66.90V75.90M487.01 66.90H490.81M487.01 75.90H490.81M492.23 53.80V62.80M490.33 53.80H494.13M490.33 62.80H494.13M495.56 42.70V51.70M493.66 42.70H497.45M493.66 51.70H497.45M498.88 49.00V58.00M496.98 49.00H500.78M496.98 58.00H500.78M502.20 47.80V56.80M500.30 47.80H504.10M500.30 56.80H504.10M505.52 47.80V56.80M503.62 47.80H507.42M503.62 56.80H507.42M508.85 45.60V54.60M506.95 45.60H510.75M506.95 54.60H510.75M512.17 43.50V52.50M510.27 43.50H514.07M510.27 52.50H514.07M515.49 49.30V58.30M513.59 49.30H517.39M513.59 58.30H517.39M518.81 29.60V38.60M516.91 29.60H520.71M516.91 38.60H520.71M522.13 40.50V49.50M520.24 40.50H524.03M520.24 49.50H524.03M525.46 43.70V52.70M523.56 43.70H527.36M523.56 52.70H527.36M528.78 36.20V45.20M526.88 36.20H530.68M526.88 45.20H530.68M532.10 34.40V43.40M530.20 34.40H534.00M530.20 43.40H534.00M535.42 29.60V38.60M533.52 29.60H537.32M533.52 38.60H537.32M538.75 28.10V37.10M536.85 28.10H540.65M536.85 37.10H540.65M542.07 35.40V44.40M540.17 35.40H543.97M540.17 44.40H543.97M545.39 32.50V41.50M543.49 32.50H547.29M543.49 41.50H547.29M548.72 27.40V36.40M546.82 27.40H550.62M546.82 36.40H550.62M552.04 31.80V40.80M550.14 31.80H553.94M550.14 40.80H553.94M555.36 25.30V34.30M553.46 25.30H557.26M553.46 34.30H557.26M558.68 26.70V35.70M556.78 26.70H560.58M556.78 35.70H560.58M562.00 25.30V34.30M560.11 25.30H563.90M560.11 34.30H563.90M565.33 28.20V37.20M563.43 28.20H567.23M563.43 37.20H567.23M568.65 24.60V33.60M566.75 24.60H570.55M566.75 33.60H570.55M571.97 29.60V38.60M570.07 29.60H573.87M570.07 38.60H573.87M575.30 23.10V32.10M573.40 23.10H577.20M573.40 32.10H577.20M578.62 28.20V37.20M576.72 28.20H580.52M576.72 37.20H580.52M581.94 15.20V24.20M580.04 15.20H583.84M580.04 24.20H583.84M585.26 18.80V27.80M583.36 18.80H587.16M583.36 27.80H587.16M588.59 18.10V27.10M586.69 18.10H590.49M586.69 27.10H590.49M591.91 20.20V29.20M590.01 20.20H593.81M590.01 29.20H593.81M595.23 27.50V36.50M593.33 27.50H597.13M593.33 36.50H597.13M598.55 28.20V37.20M596.65 28.20H600.45M596.65 37.20H600.45M601.88 14.50V23.50M599.98 14.50H603.77M599.98 23.50H603.77M605.20 18.80V27.80M603.30 18.80H607.10M603.30 27.80H607.10M608.52 9.90V18.90M606.62 9.90H610.42M606.62 18.90H610.42M611.84 18.10V27.10M609.94 18.10H613.74M609.94 27.10H613.74M615.16 13.80V22.80M613.26 13.80H617.06M613.26 22.80H617.06M618.49 18.80V27.80M616.59 18.80H620.39M616.59 27.80H620.39M621.81 18.80V27.80M619.91 18.80H623.71M619.91 27.80H623.71M625.13 8.00V17.00M623.23 8.00H627.03M623.23 17.00H627.03M628.46 15.90V24.90M626.56 15.90H630.36M626.56 24.90H630.36M631.78 13.80V22.80M629.88 13.80H633.68M629.88 22.80H633.68M635.10 11.60V20.60M633.20 11.60H637.00M633.20 20.60H637.00" stroke="#2020f0" stroke-width="1.1" fill="none"/>
<path d="M369.30 204.90L371.90 208.00L369.30 211.10L366.70 208.00ZM372.62 194.90L375.22 198.00L372.62 201.10L370.02 198.00ZM375.94 168.50L378.55 171.60L375.94 174.70L373.34 171.60ZM379.27 187.60L381.87 190.70L379.27 193.80L376.67 190.70ZM382.59 181.90L385.19 185.00L382.59 188.10L379.99 185.00ZM385.91 183.40L388.51 186.50L385.91 189.60L383.31 186.50ZM389.24 146.70L391.84 149.80L389.24 152.90L386.63 149.80ZM392.56 151.40L395.16 154.50L392.56 157.60L389.96 154.50ZM395.88 163.60L398.48 166.70L395.88 169.80L393.28 166.70ZM399.20 151.80L401.80 154.90L399.20 158.00L396.60 154.90ZM402.53 136.80L405.13 139.90L402.53 143.00L399.93 139.90ZM405.85 136.10L408.45 139.20L405.85 142.30L403.25 139.20ZM409.17 134.90L411.77 138.00L409.17 141.10L406.57 138.00ZM412.49 137.40L415.09 140.50L412.49 143.60L409.89 140.50ZM415.81 130.70L418.42 133.80L415.81 136.90L413.21 133.80ZM419.14 118.40L421.74 121.50L419.14 124.60L416.54 121.50ZM422.46 104.60L425.06 107.70L422.46 110.80L419.86 107.70ZM425.78 113.30L428.38 116.40L425.78 119.50L423.18 116.40ZM429.11 100.90L431.71 104.00L429.11 107.10L426.50 104.00ZM432.43 105.30L435.03 108.40L432.43 111.50L429.83 108.40ZM435.75 87.30L438.35 90.40L435.75 93.50L433.15 90.40ZM439.07 117.70L441.67 120.80L439.07 123.90L436.47 120.80ZM442.39 98.00L445.00 101.10L442.39 104.20L439.79 101.10ZM445.72 84.40L448.32 87.50L445.72 90.60L443.12 87.50ZM449.04 94.40L451.64 97.50L449.04 100.60L446.44 97.50ZM452.36 76.40L454.96 79.50L452.36 82.60L449.76 79.50ZM455.69 87.30L458.29 90.40L455.69 93.50L453.08 90.40ZM459.01 82.20L461.61 85.30L459.01 88.40L456.41 85.30ZM462.33 72.70L464.93 75.80L462.33 78.90L459.73 75.80ZM465.65 75.60L468.25 78.70L465.65 81.80L463.05 78.70ZM468.98 70.50L471.58 73.60L468.98 76.70L466.38 73.60ZM472.30 75.60L474.90 78.70L472.30 81.80L469.70 78.70ZM475.62 66.10L478.22 69.20L475.62 72.30L473.02 69.20ZM478.94 62.50L481.54 65.60L478.94 68.70L476.34 65.60ZM482.26 60.90L484.87 64.00L482.26 67.10L479.66 64.00ZM485.59 59.30L488.19 62.40L485.59 65.50L482.99 62.40ZM488.91 68.30L491.51 71.40L488.91 74.50L486.31 71.40ZM492.23 55.20L494.83 58.30L492.23 61.40L489.63 58.30ZM495.56 44.10L498.16 47.20L495.56 50.30L492.95 47.20ZM498.88 50.40L501.48 53.50L498.88 56.60L496.28 53.50ZM502.20 49.20L504.80 52.30L502.20 55.40L499.60 52.30ZM505.52 49.20L508.12 52.30L505.52 55.40L502.92 52.30ZM508.85 47.00L511.45 50.10L508.85 53.20L506.25 50.10ZM512.17 44.90L514.77 48.00L512.17 51.10L509.57 48.00ZM515.49 50.70L518.09 53.80L515.49 56.90L512.89 53.80ZM518.81 31.00L521.41 34.10L518.81 37.20L516.21 34.10ZM522.13 41.90L524.74 45.00L522.13 48.10L519.53 45.00ZM525.46 45.10L528.06 48.20L525.46 51.30L522.86 48.20ZM528.78 37.60L531.38 40.70L528.78 43.80L526.18 40.70ZM532.10 35.80L534.70 38.90L532.10 42.00L529.50 38.90ZM535.42 31.00L538.02 34.10L535.42 37.20L532.82 34.10ZM538.75 29.50L541.35 32.60L538.75 35.70L536.15 32.60ZM542.07 36.80L544.67 39.90L542.07 43.00L539.47 39.90ZM545.39 33.90L547.99 37.00L545.39 40.10L542.79 37.00ZM548.72 28.80L551.32 31.90L548.72 35.00L546.12 31.90ZM552.04 33.20L554.64 36.30L552.04 39.40L549.44 36.30ZM555.36 26.70L557.96 29.80L555.36 32.90L552.76 29.80ZM558.68 28.10L561.28 31.20L558.68 34.30L556.08 31.20ZM562.00 26.70L564.61 29.80L562.00 32.90L559.40 29.80ZM565.33 29.60L567.93 32.70L565.33 35.80L562.73 32.70ZM568.65 26.00L571.25 29.10L568.65 32.20L566.05 29.10ZM571.97 31.00L574.57 34.10L571.97 37.20L569.37 34.10ZM575.30 24.50L577.90 27.60L575.30 30.70L572.70 27.60ZM578.62 29.60L581.22 32.70L578.62 35.80L576.02 32.70ZM581.94 16.60L584.54 19.70L581.94 22.80L579.34 19.70ZM585.26 20.20L587.86 23.30L585.26 26.40L582.66 23.30ZM588.59 19.50L591.19 22.60L588.59 25.70L585.99 22.60ZM591.91 21.60L594.51 24.70L591.91 27.80L589.31 24.70ZM595.23 28.90L597.83 32.00L595.23 35.10L592.63 32.00ZM598.55 29.60L601.15 32.70L598.55 35.80L595.95 32.70ZM601.88 15.90L604.48 19.00L601.88 22.10L599.27 19.00ZM605.20 20.20L607.80 23.30L605.20 26.40L602.60 23.30ZM608.52 11.30L611.12 14.40L608.52 17.50L605.92 14.40ZM611.84 19.50L614.44 22.60L611.84 25.70L609.24 22.60ZM615.16 15.20L617.76 18.30L615.16 21.40L612.56 18.30ZM618.49 20.20L621.09 23.30L618.49 26.40L615.89 23.30ZM621.81 20.20L624.41 23.30L621.81 26.40L619.21 23.30ZM625.13 9.40L627.73 12.50L625.13 15.60L622.53 12.50ZM628.46 17.30L631.06 20.40L628.46 23.50L625.86 20.40ZM631.78 15.20L634.38 18.30L631.78 21.40L629.18 18.30ZM635.10 13.00L637.70 16.10L635.10 19.20L632.50 16.10Z" fill="#1818f0"/>
</g>
<rect x="367.5" y="6.5" width="269.0" height="267.0" fill="none" stroke="#555" stroke-width="1"/>
<line x1="369.3" y1="273.5" x2="369.3" y2="276.1" stroke="#333" stroke-width="0.8"/>
<line x1="435.75" y1="273.5" x2="435.75" y2="276.1" stroke="#333" stroke-width="0.8"/>
<line x1="502.20000000000005" y1="273.5" x2="502.20000000000005" y2="276.1" stroke="#333" stroke-width="0.8"/>
<line x1="568.6500000000001" y1="273.5" x2="568.6500000000001" y2="276.1" stroke="#333" stroke-width="0.8"/>
<line x1="635.1" y1="273.5" x2="635.1" y2="276.1" stroke="#333" stroke-width="0.8"/>
<line x1="364.9" y1="273.2" x2="367.5" y2="273.2" stroke="#333" stroke-width="0.8"/>
<line x1="364.9" y1="219.83999999999997" x2="367.5" y2="219.83999999999997" stroke="#333" stroke-width="0.8"/>
<line x1="364.9" y1="166.48" x2="367.5" y2="166.48" stroke="#333" stroke-width="0.8"/>
<line x1="364.9" y1="113.11999999999998" x2="367.5" y2="113.11999999999998" stroke="#333" stroke-width="0.8"/>
<line x1="364.9" y1="59.75999999999999" x2="367.5" y2="59.75999999999999" stroke="#333" stroke-width="0.8"/>
<line x1="364.9" y1="6.399999999999977" x2="367.5" y2="6.399999999999977" stroke="#333" stroke-width="0.8"/>
<line x1="636.5" y1="273.5" x2="639.1" y2="273.5" stroke="#333" stroke-width="0.8"/>
<line x1="636.5" y1="140.0" x2="639.1" y2="140.0" stroke="#333" stroke-width="0.8"/>
<line x1="636.5" y1="6.5" x2="639.1" y2="6.5" stroke="#333" stroke-width="0.8"/>
<text x="26.6" y="280.0" font-size="16.2" font-family="Liberation Sans, sans-serif" fill="#000" text-anchor="end" >0</text>
<text x="26.6" y="213.25" font-size="16.2" font-family="Liberation Sans, sans-serif" fill="#000" text-anchor="end" >1</text>
<text x="26.6" y="146.5" font-size="16.2" font-family="Liberation Sans, sans-serif" fill="#000" text-anchor="end" >2</text>
<text x="26.6" y="79.75" font-size="16.2" font-family="Liberation Sans, sans-serif" fill="#000" text-anchor="end" >3</text>
<text x="26.6" y="13.0" font-size="16.2" font-family="Liberation Sans, sans-serif" fill="#000" text-anchor="end" >4</text>
<text x="31.5" y="289.9" font-size="16.2" font-family="Liberation Sans, sans-serif" fill="#000" text-anchor="middle" >0</text>
<text x="98.75" y="289.9" font-size="16.2" font-family="Liberation Sans, sans-serif" fill="#000" text-anchor="middle" >1</text>
<text x="166.0" y="289.9" font-size="16.2" font-family="Liberation Sans, sans-serif" fill="#000" text-anchor="middle" >2</text>
<text x="233.25" y="289.9" font-size="16.2" font-family="Liberation Sans, sans-serif" fill="#000" text-anchor="middle" >3</text>
<text x="300.5" y="289.9" font-size="16.2" font-family="Liberation Sans, sans-serif" fill="#000" text-anchor="middle" >4</text>
<text x="369.3" y="289.9" font-size="16.2" font-family="Liberation Sans, sans-serif" fill="#000" text-anchor="middle" >0</text>
<text x="435.75" y="289.9" font-size="16.2" font-family="Liberation Sans, sans-serif" fill="#000" text-anchor="middle" >1</text>
<text x="502.20000000000005" y="289.9" font-size="16.2" font-family="Liberation Sans, sans-serif" fill="#000" text-anchor="middle" >2</text>
<text x="568.6500000000001" y="289.9" font-size="16.2" font-family="Liberation Sans, sans-serif" fill="#000" text-anchor="middle" >3</text>
<text x="635.1" y="289.9" font-size="16.2" font-family="Liberation Sans, sans-serif" fill="#000" text-anchor="middle" >4</text>
<text x="362.8" y="279.7" font-size="16.2" font-family="Liberation Sans, sans-serif" fill="#000" text-anchor="end" textLength="33.4" lengthAdjust="spacingAndGlyphs" >0.00</text>
<text x="362.8" y="226.33999999999997" font-size="16.2" font-family="Liberation Sans, sans-serif" fill="#000" text-anchor="end" textLength="33.4" lengthAdjust="spacingAndGlyphs" >0.02</text>
<text x="362.8" y="172.98" font-size="16.2" font-family="Liberation Sans, sans-serif" fill="#000" text-anchor="end" textLength="33.4" lengthAdjust="spacingAndGlyphs" >0.04</text>
<text x="362.8" y="119.61999999999998" font-size="16.2" font-family="Liberation Sans, sans-serif" fill="#000" text-anchor="end" textLength="33.4" lengthAdjust="spacingAndGlyphs" >0.06</text>
<text x="362.8" y="66.25999999999999" font-size="16.2" font-family="Liberation Sans, sans-serif" fill="#000" text-anchor="end" textLength="33.4" lengthAdjust="spacingAndGlyphs" >0.08</text>
<text x="362.8" y="12.899999999999977" font-size="16.2" font-family="Liberation Sans, sans-serif" fill="#000" text-anchor="end" textLength="33.4" lengthAdjust="spacingAndGlyphs" >0.10</text>
<text x="641.2" y="279.8" font-size="16.2" font-family="Liberation Sans, sans-serif" fill="#1a1aff" text-anchor="start" textLength="23.3" lengthAdjust="spacingAndGlyphs" >0.8</text>
<text x="641.2" y="146.3" font-size="16.2" font-family="Liberation Sans, sans-serif" fill="#1a1aff" text-anchor="start" textLength="23.3" lengthAdjust="spacingAndGlyphs" >0.9</text>
<text x="641.2" y="12.8" font-size="16.2" font-family="Liberation Sans, sans-serif" fill="#1a1aff" text-anchor="start" textLength="23.3" lengthAdjust="spacingAndGlyphs" >1.0</text>
<text x="67.6" y="306.8" font-size="16.2" font-family="Liberation Sans, sans-serif" fill="#000" text-anchor="start" textLength="197.8" lengthAdjust="spacingAndGlyphs" >distance [µm] from edge</text>
<text x="403.3" y="306.9" font-size="16.2" font-family="Liberation Sans, sans-serif" fill="#000" text-anchor="start" textLength="197.8" lengthAdjust="spacingAndGlyphs" >distance [µm] from edge</text>
<text x="13.2" y="194.6" font-size="16.6" font-family="Liberation Sans, sans-serif" fill="#000" text-anchor="start" textLength="109.5" lengthAdjust="spacingAndGlyphs" transform="rotate(-90 13.2 194.6)" >distance [µm]</text>
<text x="323.5" y="222.2" font-size="16.2" font-family="Liberation Sans, sans-serif" fill="#000" text-anchor="start" textLength="163.2" lengthAdjust="spacingAndGlyphs" transform="rotate(-90 323.5 222.2)" >precursor proportion</text>
<text x="671.6" y="58.6" font-size="16.2" font-family="Liberation Sans, sans-serif" fill="#1a1aff" text-anchor="start" textLength="162.6" lengthAdjust="spacingAndGlyphs" transform="rotate(90 671.6 58.6)" >aragonite proportion</text>
<text x="34.0" y="20.6" font-size="17.6" font-family="Liberation Sans, sans-serif" fill="#fff" text-anchor="start" >A</text>
<text x="369.5" y="20.6" font-size="17.6" font-family="Liberation Sans, sans-serif" fill="#000" text-anchor="start" >B</text>
<circle cx="397.3" cy="28.4" r="1.8" fill="#b0b0b0" stroke="#555" stroke-width="0.8"/>
<text x="405.0" y="33.0" font-size="16.2" font-family="Liberation Sans, sans-serif" fill="#000" text-anchor="start" textLength="34" lengthAdjust="spacingAndGlyphs" >data</text>
<path d="M397.7 47.6 L400.6 51 L397.7 54.4 L394.8 51 Z" fill="#000"/>
<text x="404.9" y="55.0" font-size="16.2" font-family="Liberation Sans, sans-serif" fill="#000" text-anchor="start" textLength="48.6" lengthAdjust="spacingAndGlyphs" >model</text>
</svg></body></html>
